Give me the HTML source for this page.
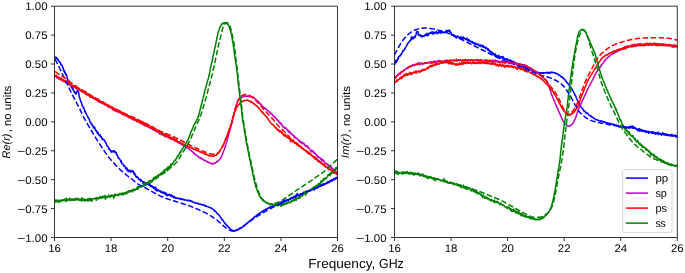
<!DOCTYPE html>
<html><head><meta charset="utf-8"><title>plot</title>
<style>
html,body{margin:0;padding:0;background:#fff;}
svg{display:block;font-family:"Liberation Sans",sans-serif;fill:#000;text-rendering:geometricPrecision;will-change:transform;}
</style></head><body>
<svg width="685" height="273" viewBox="0 0 685 273">
<defs>
<clipPath id="cl"><rect x="54.5" y="5.5" width="283.0" height="232.0"/></clipPath>
<clipPath id="cr"><rect x="394.5" y="5.5" width="282.8" height="232.0"/></clipPath>
</defs>
<rect width="685" height="273" fill="#fff"/>
<g clip-path="url(#cl)">
<path d="M55.00 57.03L55.35 57.60L55.70 57.02L56.05 58.36L56.40 58.03L56.75 57.69L57.10 58.62L57.45 59.74L57.80 59.97L58.15 59.48L58.50 60.95L58.85 60.95L59.20 61.69L59.55 62.09L59.90 61.66L60.25 63.06L60.60 63.01L60.95 64.85L61.30 64.94L61.65 65.17L62.00 65.24L62.35 66.58L62.70 67.39L63.05 67.34L63.40 70.19L63.75 69.90L64.10 71.48L64.45 70.60L64.80 73.04L65.15 72.02L65.50 73.23L65.85 74.75L66.20 75.27L66.55 74.65L66.90 76.22L67.25 78.20L67.60 79.76L67.95 79.85L68.30 79.90L68.65 81.30L69.00 80.88L69.35 82.61L69.70 82.23L70.05 83.75L70.40 84.39L70.75 85.64L71.10 85.66L71.45 87.22L71.80 87.03L72.15 88.27L72.50 88.92L72.85 88.07L73.20 89.93L73.55 90.65L73.90 90.83L74.25 92.01L74.60 91.53L74.95 93.10L75.30 93.27L75.65 93.15L76.00 94.22L76.35 92.55L76.70 91.90L77.05 90.98L77.40 91.28L77.75 90.43L78.10 92.18L78.45 91.96L78.80 93.74L79.15 96.31L79.50 97.33L79.85 98.14L80.20 99.96L80.55 100.23L80.90 101.86L81.25 102.50L81.60 103.02L81.95 104.83L82.30 106.06L82.65 106.15L83.00 106.51L83.35 107.62L83.70 107.24L84.05 109.02L84.40 109.45L84.75 112.01L85.10 111.16L85.45 111.27L85.80 113.41L86.15 113.45L86.50 114.25L86.85 115.00L87.20 115.67L87.55 115.99L87.90 117.46L88.25 117.89L88.60 117.97L88.95 118.87L89.30 119.11L89.65 120.54L90.00 121.51L90.35 122.13L90.70 122.78L91.05 122.98L91.40 124.62L91.75 124.13L92.10 124.83L92.45 125.13L92.80 125.88L93.15 126.17L93.50 128.00L93.85 127.49L94.20 126.69L94.55 127.91L94.90 127.81L95.25 129.69L95.60 130.51L95.95 129.94L96.30 131.11L96.65 131.14L97.00 132.03L97.35 133.33L97.70 132.56L98.05 132.51L98.40 134.14L98.75 134.48L99.10 135.02L99.45 135.68L99.80 135.09L100.15 134.76L100.50 137.00L100.85 136.56L101.20 136.51L101.55 136.96L101.90 138.75L102.25 138.59L102.60 139.05L102.95 139.77L103.30 139.25L103.65 139.37L104.00 139.94L104.35 140.20L104.70 141.12L105.05 141.21L105.40 142.24L105.75 142.43L106.10 143.23L106.45 144.28L106.80 145.38L107.15 146.13L107.50 145.93L107.85 146.64L108.20 146.82L108.55 148.30L108.90 149.14L109.25 148.42L109.60 149.81L109.95 149.74L110.30 150.38L110.65 151.09L111.00 151.15L111.35 152.24L111.70 150.97L112.05 151.48L112.40 151.80L112.75 151.19L113.10 151.97L113.45 150.76L113.80 151.62L114.15 150.64L114.50 151.34L114.85 151.67L115.20 152.64L115.55 151.95L115.90 152.53L116.25 152.41L116.60 154.78L116.95 154.59L117.30 155.65L117.65 155.75L118.00 157.19L118.35 158.17L118.70 157.65L119.05 158.33L119.40 158.81L119.75 159.43L120.10 159.82L120.45 159.91L120.80 162.09L121.15 160.62L121.50 161.77L121.85 163.05L122.20 163.95L122.55 163.69L122.90 164.12L123.25 164.78L123.60 165.05L123.95 166.18L124.30 165.80L124.65 165.93L125.00 166.64L125.35 167.38L125.70 168.43L126.05 169.01L126.40 168.16L126.75 167.89L127.10 168.30L127.45 170.77L127.80 169.60L128.15 170.45L128.50 171.63L128.85 170.34L129.20 170.86L129.55 170.80L129.90 170.62L130.25 171.83L130.60 172.04L130.95 170.31L131.30 172.06L131.65 171.35L132.00 171.63L132.35 171.68L132.70 170.83L133.05 171.50L133.40 171.29L133.75 173.46L134.10 174.19L134.45 173.56L134.80 173.40L135.15 175.29L135.50 174.95L135.85 176.58L136.20 177.16L136.55 177.42L136.90 176.60L137.25 176.64L137.60 177.20L137.95 177.89L138.30 177.73L138.65 179.32L139.00 179.30L139.35 179.19L139.70 179.26L140.05 180.16L140.40 180.87L140.75 179.16L141.10 180.71L141.45 180.65L141.80 180.64L142.15 181.13L142.50 181.66L142.85 182.94L143.20 182.08L143.55 182.01L143.90 181.75L144.25 183.15L144.60 182.44L144.95 183.01L145.30 183.68L145.65 183.44L146.00 183.33L146.35 183.60L146.70 184.38L147.05 183.96L147.40 184.25L147.75 184.49L148.10 184.17L148.45 184.70L148.80 184.48L149.15 185.47L149.50 185.25L149.85 184.08L150.20 185.19L150.55 186.19L150.90 185.64L151.25 185.75L151.60 186.84L151.95 185.82L152.30 186.72L152.65 187.23L153.00 187.59L153.35 186.65L153.70 186.71L154.05 188.54L154.40 187.36L154.75 187.96L155.10 189.65L155.45 188.10L155.80 187.24L156.15 190.42L156.50 189.54L156.85 189.34L157.20 190.98L157.55 189.46L157.90 190.56L158.25 189.89L158.60 189.90L158.95 190.63L159.30 190.97L159.65 191.39L160.00 191.52L160.35 190.68L160.70 191.11L161.05 192.50L161.40 191.88L161.75 191.75L162.10 192.67L162.45 192.88L162.80 192.98L163.15 192.05L163.50 192.32L163.85 193.17L164.20 193.60L164.55 192.33L164.90 192.93L165.25 193.22L165.60 194.12L165.95 193.02L166.30 195.45L166.65 194.03L167.00 194.49L167.35 195.61L167.70 194.79L168.05 195.01L168.40 194.60L168.75 195.13L169.10 194.36L169.45 195.09L169.80 195.30L170.15 194.82L170.50 196.14L170.85 195.95L171.20 194.79L171.55 196.41L171.90 195.62L172.25 196.58L172.60 196.00L172.95 196.38L173.30 196.92L173.65 197.81L174.00 196.28L174.35 196.99L174.70 197.14L175.05 197.92L175.40 197.46L175.75 197.87L176.10 198.37L176.45 198.25L176.80 197.89L177.15 197.99L177.50 198.15L177.85 198.40L178.20 198.13L178.55 198.50L178.90 198.78L179.25 198.52L179.60 198.59L179.95 198.90L180.30 199.11L180.65 198.57L181.00 198.74L181.35 199.41L181.70 199.13L182.05 198.94L182.40 199.30L182.75 199.72L183.10 199.27L183.45 199.26L183.80 199.51L184.15 200.02L184.50 199.56L184.85 199.92L185.20 200.11L185.55 200.09L185.90 199.94L186.25 200.25L186.60 200.21L186.95 200.45L187.30 200.42L187.65 200.44L188.00 200.08L188.35 200.73L188.70 200.63L189.05 200.25L189.40 200.83L189.75 201.00L190.10 201.00L190.45 200.54L190.80 201.06L191.15 201.11L191.50 201.38L191.85 201.03L192.20 201.76L192.55 201.95L192.90 202.08L193.25 202.05L193.60 202.17L193.95 202.56L194.30 202.55L194.65 202.46L195.00 202.75L195.35 202.96L195.70 203.20L196.05 203.13L196.40 202.93L196.75 203.10L197.10 203.37L197.45 203.49L197.80 203.75L198.15 203.15L198.50 203.52L198.85 203.51L199.20 204.14L199.55 204.15L199.90 204.14L200.25 204.35L200.60 204.11L200.95 204.47L201.30 204.46L201.65 204.57L202.00 204.62L202.35 204.98L202.70 205.12L203.05 204.64L203.40 204.97L203.75 205.24L204.10 205.47L204.45 205.08L204.80 205.36L205.15 205.64L205.50 206.26L205.85 205.77L206.20 206.01L206.55 206.23L206.90 206.35L207.25 206.55L207.60 206.64L207.95 206.74L208.30 206.99L208.65 207.13L209.00 207.29L209.35 207.42L209.70 207.18L210.05 207.64L210.40 207.77L210.75 208.07L211.10 208.20L211.45 208.58L211.80 208.20L212.15 208.56L212.50 208.87L212.85 208.93L213.20 209.30L213.55 209.58L213.90 209.87L214.25 210.85L214.60 210.62L214.95 211.31L215.30 211.07L215.65 211.66L216.00 211.77L216.35 212.33L216.70 212.98L217.05 213.40L217.40 213.48L217.75 213.77L218.10 214.05L218.45 214.54L218.80 215.20L219.15 214.96L219.50 215.77L219.85 216.12L220.20 217.10L220.55 217.08L220.90 218.07L221.25 218.07L221.60 218.57L221.95 219.66L222.30 220.02L222.65 220.04L223.00 220.32L223.35 220.98L223.70 221.81L224.05 222.12L224.40 222.35L224.75 223.15L225.10 223.78L225.45 223.60L225.80 224.26L226.15 224.48L226.50 225.33L226.85 225.48L227.20 225.68L227.55 225.82L227.90 226.74L228.25 226.86L228.60 227.31L228.95 227.56L229.30 228.02L229.65 227.81L230.00 228.31L230.35 228.87L230.70 229.52L231.05 229.47L231.40 229.67L231.75 229.82L232.10 230.07L232.45 230.39L232.80 230.42L233.15 230.75L233.50 230.76L233.85 231.21L234.20 230.67L234.55 230.89L234.90 230.44L235.25 230.66L235.60 230.90L235.95 230.06L236.30 229.79L236.65 230.19L237.00 229.82L237.35 229.62L237.70 229.65L238.05 229.46L238.40 229.52L238.75 229.16L239.10 228.74L239.45 228.43L239.80 228.09L240.15 228.05L240.50 228.37L240.85 227.56L241.20 227.70L241.55 227.76L241.90 227.38L242.25 227.37L242.60 226.94L242.95 226.88L243.30 226.11L243.65 225.79L244.00 226.18L244.35 225.52L244.70 225.18L245.05 224.74L245.40 224.98L245.75 224.43L246.10 224.15L246.45 223.60L246.80 223.49L247.15 223.09L247.50 222.88L247.85 222.69L248.20 222.20L248.55 221.83L248.90 221.92L249.25 221.18L249.60 221.45L249.95 221.18L250.30 220.18L250.65 220.59L251.00 219.70L251.35 219.91L251.70 219.16L252.05 219.18L252.40 218.45L252.75 218.56L253.10 218.15L253.45 218.22L253.80 217.75L254.15 217.09L254.50 217.10L254.85 216.59L255.20 216.53L255.55 216.58L255.90 216.33L256.25 215.73L256.60 215.23L256.95 215.19L257.30 215.40L257.65 214.62L258.00 214.05L258.35 213.82L258.70 213.62L259.05 213.92L259.40 213.34L259.75 213.00L260.10 213.03L260.45 212.94L260.80 212.44L261.15 212.06L261.50 212.07L261.85 211.99L262.20 211.18L262.55 211.02L262.90 211.61L263.25 211.02L263.60 210.79L263.95 210.16L264.30 210.05L264.65 210.01L265.00 210.17L265.35 209.69L265.70 209.09L266.05 209.65L266.40 209.47L266.75 209.11L267.10 208.45L267.45 208.37L267.80 208.28L268.15 208.19L268.50 208.43L268.85 207.45L269.20 207.43L269.55 207.45L269.90 207.12L270.25 206.96L270.60 206.48L270.95 206.80L271.30 206.51L271.65 206.52L272.00 206.63L272.35 206.05L272.70 205.95L273.05 205.96L273.40 205.53L273.75 205.65L274.10 204.69L274.45 204.92L274.80 205.38L275.15 205.11L275.50 205.26L275.85 204.12L276.20 204.36L276.55 204.44L276.90 204.29L277.25 204.09L277.60 204.81L277.95 203.68L278.30 203.61L278.65 203.92L279.00 203.76L279.35 203.42L279.70 204.17L280.05 203.38L280.40 202.76L280.75 202.17L281.10 203.32L281.45 202.07L281.80 202.52L282.15 201.83L282.50 203.24L282.85 202.26L283.20 200.63L283.55 201.69L283.90 200.55L284.25 200.88L284.60 201.53L284.95 200.13L285.30 200.94L285.65 200.54L286.00 200.88L286.35 199.70L286.70 200.49L287.05 199.75L287.40 200.42L287.75 199.68L288.10 199.89L288.45 200.14L288.80 199.84L289.15 199.02L289.50 199.30L289.85 198.73L290.20 198.83L290.55 199.39L290.90 197.77L291.25 197.43L291.60 198.27L291.95 197.50L292.30 198.41L292.65 198.04L293.00 197.76L293.35 197.23L293.70 196.82L294.05 196.42L294.40 196.47L294.75 196.63L295.10 195.94L295.45 196.96L295.80 196.59L296.15 195.29L296.50 194.32L296.85 196.43L297.20 194.91L297.55 193.77L297.90 194.36L298.25 195.32L298.60 195.86L298.95 195.46L299.30 195.64L299.65 195.68L300.00 195.59L300.35 193.77L300.70 194.08L301.05 193.68L301.40 193.94L301.75 193.55L302.10 193.77L302.45 194.56L302.80 192.91L303.15 193.62L303.50 192.46L303.85 192.12L304.20 193.35L304.55 192.52L304.90 192.50L305.25 193.17L305.60 191.38L305.95 192.07L306.30 192.75L306.65 191.12L307.00 191.74L307.35 192.00L307.70 191.85L308.05 191.56L308.40 191.60L308.75 191.16L309.10 191.20L309.45 190.82L309.80 189.91L310.15 190.38L310.50 190.10L310.85 190.70L311.20 190.19L311.55 190.06L311.90 189.72L312.25 189.86L312.60 189.00L312.95 189.35L313.30 188.64L313.65 188.69L314.00 188.10L314.35 189.94L314.70 188.83L315.05 187.76L315.40 187.97L315.75 188.24L316.10 187.63L316.45 188.19L316.80 187.86L317.15 188.13L317.50 185.62L317.85 187.60L318.20 187.14L318.55 187.45L318.90 186.36L319.25 186.11L319.60 185.72L319.95 186.51L320.30 186.17L320.65 184.91L321.00 185.42L321.35 185.58L321.70 184.72L322.05 185.05L322.40 185.04L322.75 184.60L323.10 183.81L323.45 185.29L323.80 184.59L324.15 184.48L324.50 183.76L324.85 184.04L325.20 183.36L325.55 183.52L325.90 183.50L326.25 183.60L326.60 182.73L326.95 182.44L327.30 183.47L327.65 181.73L328.00 182.49L328.35 182.13L328.70 182.42L329.05 181.58L329.40 181.05L329.75 181.55L330.10 180.49L330.45 180.49L330.80 180.92L331.15 180.82L331.50 179.70L331.85 181.13L332.20 180.17L332.55 180.74L332.90 180.47L333.25 179.66L333.60 179.20L333.95 178.41L334.30 179.65L334.65 179.78L335.00 178.78L335.35 178.52L335.70 177.76L336.05 177.50L336.40 177.84L336.75 178.43L337.10 177.35L337.45 177.84L337.80 177.36L338.00 176.94" fill="none" stroke="#0000ff" stroke-width="1.5" stroke-linejoin="round" stroke-linecap="butt"/>
<path d="M55.00 76.81L55.35 75.91L55.70 76.17L56.05 76.11L56.40 77.29L56.75 75.92L57.10 78.16L57.45 77.12L57.80 77.87L58.15 77.79L58.50 78.85L58.85 77.30L59.20 78.37L59.55 78.55L59.90 79.51L60.25 78.59L60.60 79.26L60.95 79.10L61.30 79.76L61.65 80.22L62.00 79.58L62.35 80.89L62.70 80.96L63.05 80.95L63.40 81.34L63.75 80.74L64.10 81.21L64.45 80.99L64.80 81.51L65.15 82.10L65.50 81.67L65.85 82.01L66.20 82.05L66.55 82.16L66.90 82.44L67.25 82.95L67.60 82.59L67.95 83.46L68.30 84.36L68.65 84.09L69.00 83.82L69.35 83.66L69.70 83.93L70.05 85.34L70.40 84.72L70.75 84.57L71.10 85.18L71.45 86.33L71.80 85.54L72.15 85.99L72.50 86.02L72.85 85.90L73.20 85.70L73.55 86.30L73.90 86.57L74.25 87.16L74.60 87.49L74.95 87.74L75.30 87.61L75.65 88.12L76.00 87.50L76.35 88.70L76.70 88.54L77.05 88.33L77.40 88.93L77.75 88.85L78.10 89.66L78.45 90.05L78.80 90.59L79.15 89.00L79.50 89.19L79.85 89.86L80.20 90.40L80.55 90.96L80.90 90.89L81.25 89.93L81.60 91.00L81.95 91.77L82.30 91.69L82.65 92.16L83.00 91.89L83.35 92.11L83.70 92.52L84.05 92.84L84.40 92.95L84.75 93.12L85.10 92.94L85.45 93.68L85.80 93.76L86.15 94.48L86.50 94.73L86.85 94.43L87.20 94.36L87.55 94.44L87.90 95.18L88.25 95.22L88.60 95.21L88.95 95.61L89.30 95.49L89.65 96.35L90.00 95.98L90.35 97.01L90.70 96.80L91.05 97.09L91.40 96.45L91.75 97.28L92.10 97.76L92.45 97.10L92.80 97.64L93.15 97.98L93.50 97.47L93.85 98.51L94.20 98.97L94.55 98.30L94.90 99.10L95.25 98.46L95.60 99.28L95.95 98.69L96.30 100.24L96.65 100.08L97.00 100.05L97.35 99.86L97.70 101.08L98.05 101.62L98.40 99.89L98.75 101.63L99.10 102.02L99.45 101.57L99.80 100.99L100.15 102.21L100.50 101.89L100.85 101.87L101.20 101.75L101.55 102.84L101.90 103.15L102.25 102.64L102.60 103.41L102.95 102.77L103.30 103.94L103.65 103.76L104.00 103.84L104.35 104.08L104.70 104.76L105.05 104.90L105.40 104.98L105.75 104.98L106.10 105.15L106.45 105.62L106.80 105.62L107.15 106.04L107.50 105.74L107.85 104.87L108.20 106.80L108.55 107.57L108.90 106.89L109.25 106.81L109.60 106.98L109.95 107.18L110.30 107.44L110.65 107.06L111.00 107.55L111.35 107.50L111.70 108.31L112.05 108.22L112.40 108.80L112.75 108.65L113.10 109.41L113.45 109.21L113.80 110.38L114.15 108.52L114.50 109.32L114.85 110.28L115.20 111.27L115.55 110.06L115.90 110.38L116.25 110.43L116.60 111.38L116.95 110.75L117.30 111.41L117.65 111.09L118.00 110.79L118.35 111.76L118.70 112.03L119.05 112.60L119.40 112.07L119.75 111.99L120.10 112.76L120.45 112.77L120.80 112.96L121.15 112.96L121.50 113.75L121.85 113.53L122.20 114.47L122.55 114.25L122.90 114.19L123.25 113.22L123.60 114.51L123.95 114.59L124.30 114.96L124.65 115.25L125.00 114.70L125.35 115.48L125.70 114.96L126.05 116.39L126.40 114.92L126.75 114.87L127.10 115.10L127.45 115.65L127.80 115.70L128.15 117.41L128.50 116.43L128.85 116.09L129.20 117.49L129.55 116.80L129.90 116.65L130.25 117.87L130.60 117.91L130.95 117.55L131.30 118.63L131.65 118.16L132.00 119.07L132.35 118.68L132.70 119.38L133.05 118.82L133.40 118.32L133.75 120.33L134.10 119.00L134.45 119.34L134.80 119.26L135.15 119.68L135.50 120.08L135.85 120.23L136.20 120.63L136.55 121.37L136.90 120.59L137.25 120.21L137.60 120.41L137.95 120.85L138.30 120.52L138.65 121.95L139.00 121.46L139.35 121.73L139.70 122.07L140.05 121.55L140.40 122.00L140.75 122.94L141.10 123.10L141.45 122.75L141.80 124.06L142.15 122.68L142.50 123.34L142.85 123.58L143.20 122.48L143.55 125.03L143.90 124.43L144.25 123.91L144.60 125.64L144.95 125.09L145.30 125.20L145.65 124.86L146.00 125.41L146.35 124.78L146.70 126.12L147.05 125.73L147.40 126.17L147.75 126.89L148.10 126.62L148.45 126.79L148.80 126.99L149.15 126.67L149.50 127.65L149.85 128.19L150.20 127.99L150.55 128.24L150.90 127.56L151.25 127.76L151.60 127.67L151.95 129.20L152.30 128.66L152.65 129.68L153.00 128.79L153.35 129.17L153.70 129.63L154.05 130.25L154.40 130.02L154.75 130.30L155.10 130.40L155.45 130.68L155.80 130.24L156.15 131.04L156.50 131.10L156.85 131.37L157.20 131.84L157.55 131.45L157.90 131.94L158.25 132.02L158.60 132.57L158.95 132.94L159.30 132.26L159.65 133.21L160.00 134.13L160.35 132.54L160.70 133.04L161.05 133.18L161.40 133.65L161.75 134.77L162.10 134.13L162.45 133.94L162.80 134.77L163.15 134.32L163.50 135.35L163.85 135.10L164.20 135.81L164.55 134.95L164.90 136.97L165.25 136.03L165.60 136.12L165.95 135.94L166.30 135.77L166.65 135.87L167.00 136.41L167.35 136.25L167.70 136.96L168.05 136.58L168.40 137.48L168.75 137.82L169.10 137.16L169.45 138.29L169.80 137.75L170.15 138.62L170.50 138.43L170.85 138.94L171.20 138.11L171.55 138.71L171.90 139.60L172.25 138.86L172.60 138.43L172.95 138.68L173.30 138.65L173.65 139.03L174.00 139.92L174.35 140.78L174.70 140.30L175.05 140.79L175.40 140.83L175.75 141.07L176.10 141.20L176.45 141.40L176.80 141.81L177.15 141.48L177.50 142.38L177.85 142.54L178.20 142.41L178.55 142.90L178.90 142.67L179.25 142.92L179.60 143.31L179.95 143.42L180.30 143.56L180.65 143.71L181.00 143.94L181.35 144.47L181.70 144.06L182.05 144.73L182.40 144.81L182.75 145.20L183.10 145.36L183.45 144.90L183.80 145.78L184.15 145.93L184.50 146.08L184.85 146.19L185.20 146.67L185.55 146.63L185.90 147.30L186.25 147.27L186.60 147.81L186.95 147.46L187.30 147.49L187.65 148.22L188.00 148.48L188.35 148.56L188.70 148.49L189.05 148.95L189.40 149.42L189.75 149.51L190.10 149.79L190.45 150.04L190.80 150.16L191.15 150.51L191.50 150.62L191.85 151.57L192.20 151.43L192.55 151.95L192.90 151.98L193.25 152.67L193.60 152.47L193.95 153.37L194.30 153.51L194.65 154.26L195.00 153.90L195.35 154.48L195.70 154.83L196.05 155.29L196.40 155.23L196.75 155.59L197.10 155.41L197.45 155.93L197.80 156.43L198.15 156.81L198.50 156.77L198.85 157.48L199.20 157.65L199.55 157.51L199.90 157.26L200.25 157.60L200.60 158.00L200.95 158.58L201.30 158.62L201.65 158.33L202.00 158.90L202.35 159.45L202.70 159.24L203.05 159.35L203.40 160.09L203.75 159.87L204.10 159.94L204.45 160.29L204.80 160.40L205.15 160.49L205.50 161.01L205.85 161.17L206.20 161.31L206.55 161.31L206.90 161.74L207.25 161.69L207.60 161.97L207.95 162.25L208.30 162.37L208.65 162.72L209.00 162.59L209.35 162.30L209.70 162.55L210.05 163.20L210.40 163.01L210.75 163.30L211.10 163.18L211.45 163.67L211.80 163.50L212.15 163.95L212.50 163.61L212.85 163.97L213.20 163.88L213.55 163.54L213.90 163.80L214.25 163.27L214.60 163.12L214.95 163.24L215.30 162.78L215.65 162.58L216.00 162.43L216.35 162.09L216.70 162.26L217.05 161.91L217.40 161.49L217.75 161.18L218.10 160.97L218.45 160.90L218.80 160.38L219.15 159.75L219.50 159.63L219.85 159.06L220.20 158.62L220.55 158.56L220.90 157.58L221.25 156.97L221.60 155.97L221.95 155.28L222.30 154.78L222.65 153.63L223.00 152.91L223.35 151.60L223.70 150.68L224.05 150.00L224.40 149.17L224.75 147.99L225.10 147.08L225.45 146.12L225.80 144.90L226.15 143.41L226.50 142.45L226.85 141.45L227.20 140.08L227.55 139.07L227.90 137.44L228.25 136.34L228.60 135.33L228.95 133.48L229.30 132.39L229.65 131.30L230.00 129.66L230.35 128.71L230.70 127.24L231.05 126.04L231.40 124.73L231.75 123.48L232.10 121.97L232.45 120.72L232.80 119.14L233.15 117.88L233.50 116.58L233.85 114.76L234.20 113.26L234.55 111.57L234.90 110.52L235.25 108.80L235.60 107.41L235.95 106.38L236.30 105.13L236.65 104.30L237.00 103.41L237.35 102.12L237.70 101.44L238.05 101.06L238.40 100.33L238.75 99.83L239.10 99.56L239.45 98.83L239.80 98.77L240.15 98.64L240.50 98.44L240.85 97.73L241.20 97.63L241.55 97.56L241.90 97.24L242.25 97.04L242.60 97.10L242.95 96.74L243.30 96.33L243.65 96.65L244.00 96.42L244.35 96.28L244.70 96.05L245.05 96.51L245.40 95.81L245.75 95.88L246.10 96.15L246.45 96.45L246.80 96.47L247.15 96.00L247.50 96.22L247.85 95.98L248.20 96.52L248.55 96.06L248.90 96.36L249.25 96.63L249.60 96.42L249.95 96.80L250.30 96.38L250.65 96.68L251.00 96.84L251.35 96.71L251.70 97.08L252.05 97.00L252.40 96.65L252.75 97.87L253.10 97.35L253.45 97.42L253.80 97.33L254.15 97.86L254.50 98.01L254.85 98.51L255.20 98.76L255.55 99.36L255.90 99.34L256.25 99.74L256.60 100.04L256.95 100.27L257.30 100.58L257.65 101.16L258.00 101.43L258.35 101.50L258.70 101.77L259.05 102.37L259.40 103.00L259.75 103.15L260.10 103.90L260.45 103.77L260.80 104.32L261.15 104.15L261.50 104.88L261.85 105.29L262.20 105.80L262.55 106.38L262.90 106.39L263.25 107.01L263.60 107.19L263.95 107.58L264.30 107.62L264.65 108.31L265.00 108.14L265.35 108.77L265.70 108.78L266.05 109.17L266.40 109.27L266.75 109.74L267.10 110.20L267.45 110.39L267.80 110.41L268.15 111.25L268.50 111.31L268.85 111.74L269.20 111.99L269.55 111.94L269.90 111.93L270.25 112.49L270.60 113.38L270.95 113.10L271.30 113.97L271.65 113.91L272.00 114.56L272.35 114.23L272.70 115.53L273.05 115.51L273.40 116.18L273.75 116.31L274.10 116.88L274.45 116.91L274.80 117.57L275.15 117.07L275.50 117.56L275.85 118.61L276.20 118.65L276.55 118.92L276.90 119.29L277.25 119.95L277.60 119.85L277.95 120.73L278.30 120.49L278.65 121.14L279.00 122.22L279.35 122.69L279.70 122.05L280.05 123.42L280.40 122.87L280.75 124.14L281.10 123.19L281.45 123.94L281.80 124.61L282.15 125.13L282.50 126.28L282.85 126.36L283.20 127.04L283.55 127.20L283.90 126.79L284.25 127.14L284.60 128.15L284.95 127.97L285.30 128.21L285.65 127.96L286.00 128.91L286.35 127.90L286.70 129.39L287.05 129.46L287.40 130.62L287.75 130.35L288.10 130.75L288.45 131.91L288.80 131.02L289.15 132.02L289.50 131.23L289.85 132.54L290.20 133.01L290.55 133.55L290.90 132.98L291.25 133.91L291.60 134.22L291.95 134.36L292.30 134.75L292.65 135.22L293.00 135.50L293.35 135.11L293.70 135.33L294.05 137.49L294.40 137.51L294.75 136.17L295.10 137.41L295.45 137.82L295.80 138.19L296.15 138.20L296.50 137.98L296.85 138.66L297.20 138.81L297.55 139.43L297.90 139.53L298.25 139.90L298.60 140.77L298.95 141.17L299.30 140.25L299.65 140.89L300.00 141.00L300.35 142.28L300.70 141.90L301.05 142.91L301.40 142.21L301.75 142.71L302.10 142.28L302.45 143.85L302.80 143.27L303.15 142.95L303.50 143.65L303.85 143.04L304.20 144.43L304.55 144.76L304.90 145.10L305.25 145.97L305.60 145.34L305.95 146.17L306.30 146.20L306.65 146.23L307.00 145.57L307.35 147.38L307.70 146.95L308.05 147.51L308.40 147.17L308.75 148.25L309.10 148.47L309.45 148.74L309.80 148.97L310.15 149.87L310.50 150.14L310.85 150.34L311.20 151.95L311.55 150.30L311.90 150.72L312.25 150.72L312.60 151.76L312.95 151.51L313.30 150.82L313.65 151.89L314.00 152.85L314.35 153.64L314.70 152.68L315.05 153.47L315.40 154.03L315.75 154.06L316.10 155.01L316.45 155.06L316.80 155.54L317.15 155.33L317.50 156.77L317.85 156.31L318.20 157.26L318.55 156.70L318.90 157.51L319.25 157.18L319.60 157.34L319.95 157.76L320.30 158.39L320.65 158.60L321.00 159.78L321.35 158.73L321.70 159.06L322.05 160.76L322.40 160.52L322.75 159.58L323.10 161.08L323.45 161.26L323.80 160.38L324.15 161.58L324.50 162.08L324.85 162.77L325.20 163.19L325.55 163.08L325.90 163.86L326.25 163.58L326.60 163.54L326.95 163.81L327.30 164.85L327.65 163.90L328.00 165.52L328.35 164.92L328.70 165.58L329.05 166.31L329.40 166.95L329.75 165.66L330.10 166.51L330.45 167.23L330.80 167.19L331.15 168.21L331.50 167.02L331.85 168.54L332.20 168.86L332.55 168.97L332.90 169.79L333.25 168.92L333.60 170.38L333.95 169.77L334.30 170.79L334.65 170.56L335.00 171.43L335.35 171.71L335.70 170.89L336.05 171.84L336.40 172.17L336.75 172.40L337.10 172.44L337.45 174.05L337.80 173.53L338.00 174.38" fill="none" stroke="#bf00bf" stroke-width="1.5" stroke-linejoin="round" stroke-linecap="butt"/>
<path d="M55.00 76.57L55.35 75.98L55.70 75.99L56.05 75.03L56.40 76.19L56.75 76.36L57.10 76.74L57.45 76.62L57.80 77.18L58.15 77.13L58.50 76.84L58.85 78.36L59.20 78.56L59.55 79.27L59.90 78.47L60.25 78.40L60.60 78.52L60.95 78.11L61.30 79.83L61.65 78.77L62.00 78.91L62.35 79.69L62.70 80.90L63.05 80.34L63.40 79.78L63.75 80.15L64.10 81.14L64.45 80.86L64.80 80.68L65.15 81.19L65.50 81.97L65.85 82.89L66.20 81.15L66.55 81.71L66.90 81.79L67.25 81.01L67.60 82.09L67.95 82.22L68.30 83.70L68.65 83.14L69.00 82.44L69.35 83.99L69.70 83.59L70.05 82.95L70.40 83.83L70.75 84.03L71.10 84.06L71.45 84.80L71.80 83.63L72.15 85.02L72.50 85.98L72.85 86.08L73.20 86.44L73.55 86.64L73.90 87.06L74.25 85.70L74.60 87.08L74.95 85.65L75.30 86.61L75.65 86.02L76.00 88.00L76.35 88.38L76.70 87.66L77.05 89.05L77.40 87.78L77.75 88.48L78.10 88.68L78.45 88.16L78.80 89.26L79.15 90.37L79.50 88.79L79.85 90.15L80.20 89.72L80.55 91.09L80.90 90.52L81.25 90.85L81.60 91.04L81.95 91.01L82.30 90.23L82.65 92.12L83.00 90.67L83.35 91.85L83.70 92.29L84.05 91.63L84.40 92.44L84.75 93.26L85.10 92.76L85.45 92.46L85.80 91.45L86.15 92.83L86.50 93.27L86.85 93.53L87.20 93.47L87.55 94.49L87.90 94.12L88.25 94.61L88.60 95.29L88.95 94.58L89.30 95.12L89.65 96.79L90.00 96.22L90.35 95.12L90.70 96.05L91.05 96.64L91.40 97.23L91.75 96.78L92.10 96.57L92.45 96.64L92.80 97.66L93.15 97.65L93.50 97.35L93.85 97.74L94.20 97.79L94.55 98.67L94.90 98.01L95.25 98.91L95.60 99.31L95.95 99.29L96.30 98.68L96.65 100.18L97.00 99.16L97.35 100.01L97.70 99.49L98.05 99.09L98.40 100.46L98.75 100.69L99.10 100.66L99.45 101.06L99.80 100.70L100.15 100.84L100.50 101.38L100.85 102.82L101.20 102.35L101.55 101.75L101.90 102.59L102.25 102.16L102.60 102.37L102.95 103.36L103.30 102.72L103.65 102.23L104.00 102.89L104.35 103.68L104.70 103.90L105.05 104.77L105.40 103.79L105.75 104.85L106.10 104.87L106.45 104.72L106.80 105.50L107.15 105.49L107.50 104.88L107.85 106.23L108.20 105.05L108.55 106.01L108.90 106.17L109.25 106.61L109.60 106.11L109.95 106.72L110.30 106.85L110.65 107.72L111.00 106.83L111.35 107.54L111.70 107.52L112.05 107.09L112.40 109.66L112.75 108.19L113.10 107.53L113.45 109.45L113.80 108.14L114.15 109.19L114.50 109.66L114.85 108.94L115.20 109.25L115.55 109.36L115.90 109.78L116.25 109.07L116.60 109.48L116.95 110.31L117.30 111.20L117.65 111.13L118.00 111.96L118.35 111.52L118.70 110.97L119.05 111.38L119.40 110.41L119.75 111.22L120.10 111.36L120.45 112.31L120.80 112.71L121.15 112.16L121.50 112.32L121.85 111.92L122.20 112.94L122.55 113.34L122.90 113.63L123.25 113.07L123.60 114.90L123.95 114.60L124.30 114.00L124.65 113.91L125.00 114.21L125.35 114.66L125.70 114.73L126.05 115.21L126.40 115.55L126.75 116.08L127.10 116.12L127.45 115.53L127.80 116.00L128.15 115.71L128.50 115.75L128.85 117.42L129.20 116.17L129.55 117.81L129.90 116.57L130.25 117.10L130.60 117.77L130.95 117.30L131.30 117.69L131.65 117.48L132.00 117.50L132.35 117.86L132.70 117.73L133.05 119.27L133.40 118.36L133.75 119.66L134.10 117.19L134.45 118.98L134.80 119.47L135.15 119.13L135.50 120.13L135.85 120.02L136.20 119.65L136.55 120.24L136.90 121.84L137.25 120.47L137.60 120.67L137.95 120.40L138.30 120.91L138.65 120.23L139.00 121.05L139.35 122.81L139.70 122.15L140.05 122.06L140.40 122.51L140.75 123.14L141.10 122.54L141.45 123.59L141.80 123.16L142.15 122.79L142.50 123.89L142.85 121.61L143.20 122.85L143.55 123.52L143.90 122.99L144.25 123.61L144.60 123.49L144.95 123.65L145.30 125.84L145.65 124.77L146.00 124.53L146.35 125.53L146.70 124.77L147.05 125.62L147.40 125.47L147.75 126.42L148.10 124.77L148.45 126.26L148.80 126.05L149.15 125.46L149.50 126.98L149.85 126.00L150.20 127.68L150.55 127.20L150.90 127.50L151.25 127.32L151.60 128.00L151.95 126.53L152.30 127.89L152.65 127.66L153.00 128.40L153.35 128.40L153.70 128.99L154.05 128.32L154.40 130.12L154.75 130.60L155.10 129.29L155.45 129.60L155.80 129.99L156.15 130.77L156.50 131.35L156.85 129.69L157.20 130.24L157.55 130.18L157.90 130.34L158.25 130.23L158.60 131.63L158.95 130.91L159.30 132.71L159.65 132.55L160.00 131.58L160.35 131.78L160.70 132.23L161.05 133.63L161.40 132.48L161.75 132.30L162.10 133.36L162.45 133.81L162.80 133.39L163.15 134.96L163.50 134.33L163.85 134.65L164.20 134.05L164.55 134.73L164.90 134.85L165.25 133.77L165.60 135.49L165.95 134.42L166.30 135.66L166.65 134.98L167.00 137.25L167.35 136.41L167.70 136.91L168.05 137.12L168.40 135.95L168.75 135.55L169.10 136.90L169.45 137.81L169.80 137.50L170.15 138.08L170.50 138.33L170.85 137.10L171.20 138.29L171.55 139.39L171.90 138.16L172.25 137.56L172.60 138.69L172.95 138.75L173.30 139.37L173.65 138.89L174.00 139.55L174.35 138.64L174.70 140.24L175.05 140.74L175.40 140.77L175.75 139.73L176.10 140.69L176.45 139.52L176.80 141.02L177.15 141.06L177.50 140.89L177.85 141.57L178.20 141.67L178.55 142.12L178.90 142.02L179.25 142.23L179.60 141.72L179.95 142.16L180.30 142.55L180.65 142.95L181.00 143.04L181.35 143.60L181.70 143.17L182.05 143.51L182.40 143.80L182.75 143.86L183.10 144.20L183.45 144.12L183.80 144.77L184.15 144.52L184.50 145.03L184.85 144.92L185.20 145.45L185.55 144.92L185.90 145.55L186.25 145.48L186.60 145.81L186.95 146.20L187.30 145.80L187.65 145.92L188.00 146.16L188.35 146.62L188.70 146.26L189.05 146.90L189.40 146.72L189.75 146.91L190.10 147.26L190.45 147.59L190.80 147.51L191.15 147.70L191.50 147.96L191.85 148.06L192.20 147.64L192.55 148.33L192.90 148.61L193.25 149.01L193.60 149.39L193.95 149.21L194.30 149.22L194.65 149.12L195.00 149.53L195.35 149.85L195.70 150.12L196.05 149.76L196.40 150.18L196.75 150.47L197.10 150.87L197.45 150.64L197.80 150.60L198.15 150.72L198.50 150.95L198.85 151.04L199.20 151.54L199.55 151.76L199.90 151.83L200.25 152.09L200.60 151.85L200.95 152.21L201.30 152.17L201.65 152.43L202.00 152.86L202.35 152.71L202.70 152.42L203.05 152.95L203.40 152.99L203.75 152.94L204.10 153.25L204.45 153.81L204.80 154.13L205.15 153.74L205.50 154.24L205.85 154.43L206.20 154.02L206.55 154.44L206.90 154.58L207.25 154.78L207.60 154.50L207.95 154.93L208.30 155.40L208.65 155.57L209.00 155.81L209.35 155.39L209.70 155.99L210.05 155.77L210.40 155.34L210.75 155.90L211.10 155.69L211.45 155.95L211.80 155.84L212.15 156.20L212.50 156.00L212.85 155.90L213.20 156.22L213.55 156.06L213.90 155.89L214.25 156.23L214.60 155.70L214.95 155.47L215.30 155.30L215.65 154.86L216.00 154.87L216.35 155.22L216.70 154.30L217.05 154.24L217.40 153.66L217.75 153.44L218.10 153.59L218.45 153.06L218.80 152.29L219.15 152.00L219.50 151.29L219.85 150.76L220.20 150.15L220.55 149.56L220.90 149.25L221.25 148.71L221.60 148.07L221.95 147.27L222.30 146.33L222.65 145.97L223.00 145.07L223.35 144.79L223.70 143.99L224.05 143.29L224.40 142.24L224.75 141.09L225.10 140.92L225.45 140.14L225.80 138.64L226.15 138.16L226.50 137.53L226.85 136.09L227.20 135.86L227.55 134.43L227.90 133.31L228.25 132.95L228.60 131.73L228.95 130.55L229.30 129.98L229.65 128.36L230.00 128.31L230.35 126.69L230.70 125.90L231.05 124.60L231.40 123.53L231.75 122.07L232.10 119.99L232.45 118.87L232.80 117.38L233.15 116.13L233.50 115.16L233.85 113.97L234.20 113.07L234.55 112.60L234.90 111.51L235.25 111.05L235.60 110.15L235.95 109.10L236.30 108.19L236.65 107.78L237.00 107.32L237.35 106.59L237.70 105.77L238.05 105.67L238.40 104.51L238.75 104.17L239.10 104.07L239.45 104.17L239.80 103.39L240.15 102.72L240.50 102.79L240.85 102.51L241.20 102.28L241.55 101.69L241.90 101.35L242.25 101.35L242.60 101.25L242.95 101.40L243.30 101.41L243.65 100.64L244.00 100.60L244.35 100.62L244.70 100.51L245.05 100.62L245.40 100.57L245.75 100.48L246.10 100.72L246.45 100.37L246.80 100.18L247.15 100.12L247.50 100.32L247.85 100.41L248.20 100.31L248.55 101.04L248.90 101.04L249.25 101.01L249.60 101.02L249.95 100.98L250.30 101.29L250.65 102.12L251.00 101.32L251.35 102.07L251.70 102.41L252.05 102.46L252.40 102.56L252.75 103.04L253.10 102.83L253.45 103.47L253.80 103.95L254.15 103.63L254.50 103.96L254.85 104.48L255.20 104.98L255.55 105.36L255.90 105.51L256.25 105.50L256.60 105.71L256.95 106.36L257.30 106.74L257.65 106.72L258.00 107.35L258.35 107.77L258.70 108.30L259.05 108.18L259.40 108.94L259.75 108.92L260.10 109.50L260.45 109.99L260.80 110.79L261.15 111.63L261.50 111.30L261.85 111.75L262.20 112.26L262.55 112.07L262.90 112.94L263.25 112.82L263.60 113.88L263.95 114.20L264.30 114.34L264.65 114.41L265.00 115.40L265.35 115.47L265.70 115.85L266.05 116.39L266.40 116.27L266.75 117.22L267.10 117.81L267.45 118.11L267.80 118.55L268.15 118.79L268.50 119.72L268.85 120.14L269.20 120.62L269.55 120.95L269.90 121.83L270.25 122.38L270.60 122.51L270.95 123.06L271.30 123.58L271.65 124.03L272.00 123.90L272.35 124.08L272.70 124.34L273.05 124.85L273.40 125.42L273.75 125.95L274.10 125.76L274.45 126.39L274.80 126.27L275.15 127.67L275.50 127.29L275.85 128.02L276.20 127.87L276.55 128.42L276.90 128.56L277.25 130.11L277.60 129.73L277.95 129.75L278.30 129.61L278.65 130.08L279.00 131.02L279.35 131.94L279.70 130.40L280.05 130.96L280.40 131.67L280.75 131.67L281.10 131.32L281.45 132.59L281.80 133.30L282.15 132.17L282.50 133.51L282.85 134.23L283.20 134.50L283.55 133.93L283.90 135.83L284.25 135.04L284.60 134.48L284.95 135.82L285.30 134.81L285.65 136.28L286.00 135.25L286.35 136.74L286.70 136.18L287.05 137.47L287.40 137.49L287.75 137.58L288.10 137.61L288.45 138.49L288.80 137.02L289.15 138.62L289.50 138.87L289.85 139.22L290.20 139.65L290.55 141.63L290.90 139.75L291.25 140.42L291.60 140.29L291.95 141.41L292.30 139.51L292.65 142.01L293.00 140.85L293.35 140.17L293.70 141.14L294.05 141.95L294.40 142.44L294.75 142.56L295.10 143.34L295.45 143.09L295.80 143.34L296.15 142.35L296.50 144.18L296.85 144.75L297.20 144.14L297.55 143.51L297.90 144.07L298.25 146.11L298.60 144.97L298.95 145.17L299.30 145.32L299.65 146.46L300.00 145.95L300.35 146.03L300.70 145.91L301.05 147.02L301.40 147.95L301.75 147.53L302.10 148.43L302.45 148.28L302.80 148.54L303.15 148.84L303.50 149.03L303.85 149.91L304.20 149.87L304.55 149.51L304.90 150.21L305.25 150.36L305.60 150.97L305.95 151.06L306.30 151.47L306.65 150.61L307.00 151.99L307.35 152.82L307.70 151.49L308.05 153.53L308.40 153.02L308.75 152.98L309.10 152.29L309.45 154.29L309.80 153.33L310.15 153.87L310.50 154.77L310.85 154.10L311.20 154.40L311.55 154.57L311.90 155.46L312.25 156.16L312.60 156.32L312.95 156.60L313.30 156.42L313.65 156.99L314.00 156.77L314.35 158.67L314.70 157.86L315.05 156.85L315.40 157.67L315.75 159.55L316.10 158.05L316.45 158.89L316.80 159.68L317.15 159.06L317.50 160.64L317.85 161.29L318.20 160.06L318.55 161.52L318.90 160.59L319.25 160.81L319.60 161.84L319.95 162.12L320.30 161.90L320.65 163.05L321.00 161.95L321.35 162.60L321.70 162.76L322.05 164.14L322.40 164.45L322.75 164.65L323.10 163.75L323.45 164.89L323.80 165.36L324.15 164.38L324.50 165.13L324.85 166.28L325.20 166.57L325.55 166.56L325.90 166.99L326.25 167.11L326.60 167.26L326.95 167.36L327.30 167.15L327.65 167.77L328.00 167.92L328.35 169.80L328.70 168.80L329.05 168.88L329.40 168.99L329.75 169.29L330.10 169.44L330.45 170.16L330.80 170.05L331.15 170.79L331.50 170.11L331.85 170.97L332.20 171.52L332.55 170.52L332.90 171.54L333.25 171.82L333.60 171.69L333.95 171.82L334.30 171.22L334.65 173.25L335.00 172.22L335.35 172.25L335.70 173.61L336.05 172.33L336.40 174.22L336.75 174.11L337.10 174.42L337.45 174.18L337.80 173.75L338.00 173.47" fill="none" stroke="#ff0000" stroke-width="1.5" stroke-linejoin="round" stroke-linecap="butt"/>
<path d="M55.00 201.21L55.35 201.41L55.70 199.90L56.05 202.50L56.40 200.05L56.75 200.66L57.10 201.55L57.45 200.28L57.80 200.36L58.15 200.42L58.50 201.39L58.85 202.56L59.20 200.94L59.55 200.08L59.90 201.19L60.25 200.35L60.60 200.70L60.95 201.49L61.30 200.10L61.65 200.58L62.00 199.91L62.35 200.37L62.70 200.61L63.05 199.69L63.40 200.10L63.75 200.12L64.10 199.79L64.45 199.36L64.80 199.15L65.15 200.00L65.50 199.87L65.85 201.58L66.20 198.27L66.55 200.01L66.90 200.14L67.25 200.79L67.60 200.14L67.95 199.14L68.30 199.68L68.65 200.01L69.00 199.37L69.35 200.08L69.70 198.19L70.05 200.67L70.40 200.44L70.75 199.15L71.10 199.78L71.45 199.37L71.80 198.73L72.15 199.37L72.50 200.00L72.85 199.04L73.20 199.05L73.55 199.27L73.90 199.64L74.25 200.25L74.60 198.94L74.95 199.76L75.30 199.58L75.65 198.16L76.00 199.20L76.35 199.43L76.70 199.53L77.05 199.82L77.40 198.19L77.75 199.68L78.10 199.21L78.45 198.70L78.80 200.10L79.15 200.27L79.50 199.32L79.85 200.38L80.20 199.54L80.55 199.87L80.90 199.07L81.25 200.96L81.60 198.00L81.95 199.81L82.30 200.37L82.65 198.48L83.00 199.78L83.35 199.87L83.70 200.51L84.05 200.82L84.40 199.67L84.75 198.99L85.10 200.93L85.45 200.83L85.80 199.66L86.15 200.24L86.50 200.26L86.85 200.39L87.20 200.14L87.55 200.98L87.90 198.78L88.25 200.71L88.60 200.22L88.95 199.77L89.30 200.70L89.65 198.19L90.00 200.59L90.35 199.99L90.70 198.86L91.05 199.89L91.40 199.31L91.75 201.26L92.10 200.66L92.45 199.61L92.80 198.73L93.15 198.75L93.50 198.86L93.85 198.63L94.20 198.33L94.55 198.48L94.90 198.64L95.25 198.40L95.60 198.20L95.95 197.96L96.30 200.32L96.65 197.42L97.00 197.66L97.35 198.60L97.70 197.99L98.05 198.44L98.40 198.63L98.75 198.88L99.10 198.45L99.45 197.16L99.80 198.56L100.15 196.49L100.50 197.58L100.85 197.25L101.20 196.80L101.55 197.90L101.90 197.30L102.25 198.09L102.60 196.28L102.95 197.86L103.30 197.56L103.65 197.25L104.00 196.12L104.35 196.88L104.70 195.92L105.05 195.49L105.40 199.19L105.75 197.52L106.10 198.04L106.45 196.43L106.80 197.16L107.15 197.11L107.50 196.98L107.85 196.51L108.20 196.29L108.55 194.95L108.90 196.77L109.25 196.58L109.60 197.01L109.95 195.98L110.30 197.34L110.65 195.75L111.00 195.13L111.35 196.60L111.70 195.56L112.05 194.95L112.40 195.85L112.75 196.24L113.10 195.81L113.45 195.93L113.80 198.39L114.15 196.03L114.50 196.46L114.85 193.93L115.20 195.51L115.55 195.72L115.90 194.86L116.25 194.43L116.60 195.26L116.95 194.69L117.30 194.42L117.65 195.57L118.00 195.63L118.35 194.84L118.70 194.24L119.05 194.85L119.40 195.01L119.75 194.80L120.10 193.28L120.45 193.99L120.80 194.41L121.15 194.53L121.50 194.70L121.85 194.49L122.20 193.10L122.55 193.33L122.90 192.89L123.25 194.94L123.60 193.72L123.95 193.90L124.30 194.15L124.65 193.11L125.00 192.44L125.35 192.85L125.70 192.94L126.05 193.99L126.40 193.43L126.75 191.93L127.10 193.03L127.45 192.95L127.80 191.56L128.15 192.09L128.50 190.73L128.85 192.11L129.20 191.51L129.55 190.65L129.90 190.96L130.25 191.47L130.60 190.77L130.95 191.23L131.30 191.27L131.65 190.15L132.00 190.38L132.35 191.96L132.70 190.40L133.05 189.58L133.40 190.07L133.75 188.95L134.10 190.53L134.45 189.85L134.80 190.21L135.15 189.93L135.50 189.42L135.85 189.68L136.20 188.97L136.55 188.22L136.90 187.81L137.25 188.05L137.60 186.45L137.95 189.32L138.30 186.67L138.65 187.64L139.00 186.59L139.35 185.92L139.70 187.10L140.05 186.76L140.40 186.68L140.75 186.99L141.10 185.99L141.45 186.50L141.80 186.41L142.15 185.63L142.50 185.47L142.85 185.86L143.20 185.33L143.55 185.21L143.90 183.24L144.25 184.75L144.60 184.78L144.95 184.23L145.30 184.37L145.65 185.28L146.00 183.82L146.35 184.03L146.70 182.78L147.05 182.59L147.40 182.66L147.75 182.09L148.10 182.61L148.45 181.76L148.80 182.09L149.15 181.01L149.50 180.65L149.85 181.12L150.20 180.63L150.55 180.69L150.90 180.49L151.25 180.43L151.60 181.17L151.95 181.15L152.30 180.45L152.65 179.44L153.00 180.49L153.35 178.11L153.70 177.51L154.05 178.86L154.40 178.42L154.75 178.08L155.10 177.95L155.45 176.54L155.80 176.64L156.15 178.07L156.50 177.68L156.85 176.22L157.20 177.84L157.55 175.50L157.90 175.60L158.25 175.96L158.60 174.68L158.95 174.92L159.30 174.89L159.65 174.48L160.00 175.11L160.35 174.65L160.70 173.20L161.05 173.22L161.40 173.55L161.75 173.10L162.10 172.32L162.45 172.89L162.80 172.88L163.15 171.58L163.50 172.29L163.85 170.31L164.20 170.03L164.55 171.22L164.90 170.00L165.25 169.60L165.60 169.83L165.95 169.26L166.30 169.68L166.65 168.16L167.00 168.64L167.35 170.83L167.70 168.41L168.05 166.70L168.40 168.16L168.75 167.82L169.10 168.09L169.45 166.90L169.80 165.99L170.15 167.07L170.50 166.21L170.85 164.12L171.20 165.42L171.55 164.35L171.90 164.77L172.25 163.39L172.60 163.64L172.95 162.82L173.30 162.57L173.65 161.74L174.00 161.04L174.35 160.82L174.70 160.63L175.05 160.03L175.40 160.15L175.75 159.05L176.10 158.67L176.45 158.88L176.80 157.43L177.15 157.15L177.50 156.16L177.85 155.94L178.20 156.10L178.55 155.04L178.90 154.96L179.25 153.48L179.60 152.84L179.95 152.92L180.30 151.80L180.65 152.59L181.00 151.56L181.35 150.22L181.70 149.99L182.05 149.30L182.40 149.01L182.75 148.30L183.10 148.00L183.45 147.57L183.80 146.52L184.15 145.68L184.50 145.60L184.85 144.84L185.20 144.66L185.55 143.75L185.90 143.47L186.25 142.76L186.60 142.03L186.95 141.36L187.30 141.06L187.65 140.90L188.00 139.73L188.35 138.71L188.70 138.11L189.05 137.06L189.40 135.73L189.75 135.22L190.10 134.60L190.45 133.12L190.80 131.95L191.15 131.49L191.50 131.01L191.85 129.94L192.20 129.16L192.55 128.73L192.90 127.77L193.25 126.76L193.60 125.76L193.95 125.14L194.30 124.39L194.65 124.02L195.00 122.94L195.35 123.05L195.70 122.09L196.05 121.37L196.40 121.12L196.75 119.68L197.10 119.34L197.45 118.64L197.80 118.23L198.15 116.89L198.50 116.29L198.85 114.50L199.20 113.41L199.55 111.66L199.90 110.77L200.25 108.98L200.60 107.87L200.95 106.29L201.30 104.82L201.65 103.75L202.00 102.81L202.35 100.87L202.70 99.37L203.05 98.31L203.40 97.14L203.75 95.12L204.10 93.75L204.45 92.47L204.80 90.91L205.15 89.74L205.50 88.70L205.85 87.11L206.20 85.84L206.55 84.83L206.90 83.34L207.25 81.84L207.60 80.61L207.95 79.37L208.30 78.96L208.65 77.09L209.00 75.82L209.35 74.26L209.70 72.12L210.05 70.87L210.40 68.87L210.75 66.80L211.10 65.68L211.45 63.79L211.80 62.35L212.15 60.89L212.50 59.77L212.85 57.32L213.20 55.75L213.55 54.26L213.90 52.60L214.25 50.96L214.60 49.19L214.95 47.72L215.30 46.37L215.65 44.43L216.00 42.71L216.35 40.57L216.70 39.31L217.05 36.85L217.40 36.26L217.75 34.13L218.10 32.67L218.45 31.39L218.80 30.77L219.15 29.76L219.50 28.26L219.85 27.69L220.20 26.71L220.55 25.98L220.90 25.54L221.25 25.23L221.60 24.05L221.95 23.60L222.30 23.99L222.65 23.69L223.00 23.70L223.35 22.84L223.70 22.89L224.05 23.49L224.40 22.64L224.75 23.11L225.10 22.82L225.45 23.00L225.80 22.81L226.15 23.62L226.50 22.87L226.85 23.22L227.20 23.54L227.55 24.41L227.90 24.48L228.25 24.98L228.60 25.30L228.95 26.14L229.30 27.23L229.65 28.58L230.00 29.26L230.35 29.87L230.70 31.79L231.05 32.83L231.40 34.08L231.75 36.13L232.10 37.75L232.45 40.54L232.80 41.90L233.15 43.61L233.50 46.58L233.85 48.70L234.20 51.86L234.55 54.31L234.90 56.53L235.25 59.38L235.60 61.43L235.95 63.64L236.30 65.91L236.65 68.09L237.00 71.63L237.35 74.43L237.70 77.53L238.05 81.18L238.40 84.66L238.75 86.97L239.10 90.61L239.45 92.41L239.80 95.95L240.15 98.29L240.50 101.04L240.85 103.49L241.20 106.60L241.55 110.04L241.90 113.44L242.25 116.72L242.60 119.85L242.95 121.36L243.30 123.69L243.65 125.37L244.00 127.29L244.35 130.57L244.70 131.96L245.05 134.25L245.40 136.56L245.75 138.84L246.10 140.64L246.45 142.99L246.80 144.29L247.15 145.66L247.50 148.01L247.85 149.78L248.20 151.27L248.55 153.16L248.90 154.81L249.25 157.16L249.60 158.17L249.95 159.62L250.30 161.75L250.65 162.82L251.00 165.12L251.35 166.81L251.70 168.19L252.05 169.99L252.40 171.70L252.75 174.01L253.10 175.31L253.45 176.44L253.80 177.96L254.15 179.81L254.50 181.33L254.85 182.57L255.20 184.26L255.55 185.43L255.90 186.98L256.25 187.89L256.60 188.77L256.95 189.80L257.30 190.43L257.65 191.79L258.00 192.48L258.35 193.05L258.70 193.97L259.05 194.55L259.40 196.13L259.75 196.02L260.10 196.95L260.45 197.52L260.80 197.75L261.15 198.45L261.50 198.80L261.85 199.37L262.20 199.75L262.55 200.26L262.90 200.60L263.25 200.58L263.60 200.84L263.95 201.10L264.30 201.28L264.65 201.29L265.00 202.19L265.35 202.23L265.70 202.41L266.05 202.21L266.40 202.44L266.75 202.33L267.10 203.16L267.45 203.51L267.80 203.63L268.15 203.57L268.50 203.40L268.85 203.84L269.20 203.96L269.55 204.31L269.90 204.45L270.25 204.19L270.60 204.36L270.95 204.72L271.30 204.71L271.65 204.52L272.00 203.73L272.35 204.40L272.70 205.09L273.05 204.81L273.40 205.22L273.75 204.63L274.10 204.87L274.45 205.25L274.80 205.23L275.15 205.10L275.50 205.51L275.85 205.67L276.20 205.74L276.55 204.01L276.90 204.69L277.25 204.79L277.60 204.77L277.95 203.97L278.30 205.83L278.65 204.35L279.00 205.05L279.35 203.34L279.70 204.58L280.05 204.71L280.40 204.18L280.75 205.29L281.10 206.37L281.45 204.02L281.80 203.94L282.15 205.69L282.50 204.77L282.85 204.06L283.20 203.29L283.55 204.61L283.90 204.15L284.25 204.99L284.60 203.20L284.95 203.59L285.30 203.40L285.65 203.37L286.00 204.16L286.35 203.89L286.70 202.74L287.05 203.00L287.40 202.78L287.75 203.44L288.10 202.56L288.45 201.76L288.80 202.17L289.15 202.23L289.50 202.77L289.85 202.87L290.20 202.74L290.55 201.94L290.90 201.18L291.25 201.80L291.60 201.11L291.95 200.65L292.30 201.14L292.65 201.06L293.00 201.22L293.35 199.82L293.70 199.11L294.05 200.46L294.40 199.26L294.75 200.46L295.10 198.82L295.45 199.00L295.80 197.96L296.15 200.48L296.50 198.54L296.85 198.62L297.20 198.12L297.55 198.14L297.90 198.69L298.25 198.00L298.60 197.73L298.95 198.37L299.30 196.40L299.65 197.94L300.00 198.06L300.35 195.77L300.70 196.73L301.05 195.43L301.40 194.65L301.75 195.32L302.10 196.07L302.45 196.02L302.80 195.02L303.15 194.45L303.50 194.53L303.85 194.11L304.20 193.95L304.55 192.48L304.90 193.78L305.25 193.64L305.60 195.02L305.95 193.74L306.30 192.94L306.65 192.86L307.00 192.81L307.35 191.85L307.70 190.64L308.05 191.35L308.40 191.46L308.75 191.46L309.10 190.63L309.45 190.24L309.80 190.45L310.15 190.42L310.50 190.54L310.85 189.72L311.20 189.94L311.55 188.69L311.90 189.70L312.25 188.84L312.60 187.68L312.95 188.20L313.30 188.20L313.65 187.13L314.00 188.14L314.35 187.15L314.70 187.46L315.05 186.20L315.40 186.87L315.75 186.92L316.10 185.86L316.45 185.79L316.80 185.28L317.15 185.67L317.50 185.21L317.85 185.29L318.20 184.64L318.55 183.54L318.90 183.25L319.25 183.58L319.60 183.95L319.95 184.94L320.30 183.68L320.65 182.35L321.00 181.07L321.35 182.54L321.70 181.86L322.05 180.66L322.40 181.79L322.75 180.81L323.10 180.14L323.45 178.71L323.80 180.37L324.15 179.37L324.50 178.78L324.85 177.92L325.20 177.98L325.55 178.77L325.90 177.94L326.25 178.67L326.60 177.72L326.95 176.93L327.30 177.03L327.65 176.24L328.00 174.84L328.35 175.16L328.70 175.55L329.05 174.40L329.40 174.42L329.75 173.64L330.10 175.42L330.45 173.03L330.80 172.93L331.15 172.74L331.50 173.74L331.85 173.55L332.20 172.06L332.55 172.54L332.90 171.20L333.25 171.52L333.60 173.03L333.95 171.54L334.30 170.53L334.65 169.31L335.00 169.70L335.35 168.65L335.70 167.72L336.05 169.33L336.40 168.98L336.75 168.37L337.10 168.59L337.45 166.37L337.80 168.17L338.00 166.24" fill="none" stroke="#008000" stroke-width="1.5" stroke-linejoin="round" stroke-linecap="butt"/>
<path d="M55.00 59.00L56.00 60.99L57.00 62.99L58.00 65.00L59.00 67.01L60.00 69.03L61.00 71.07L62.00 73.12L63.00 75.19L64.00 77.29L65.00 79.39L66.00 81.50L67.00 83.63L68.00 85.78L69.00 87.92L70.00 90.00L71.00 92.01L72.00 93.98L73.00 95.93L74.00 97.89L75.00 99.85L76.00 101.80L77.00 103.73L78.00 105.60L79.00 107.46L80.00 109.41L81.00 111.60L82.00 113.82L83.00 115.87L84.00 117.83L85.00 119.70L86.00 121.48L87.00 123.19L88.00 124.86L89.00 126.52L90.00 128.20L91.00 129.91L92.00 131.64L93.00 133.36L94.00 135.05L95.00 136.70L96.00 138.30L97.00 139.86L98.00 141.40L99.00 142.93L100.00 144.45L101.00 145.99L102.00 147.55L103.00 149.11L104.00 150.66L105.00 152.17L106.00 153.63L107.00 155.03L108.00 156.35L109.00 157.60L110.00 158.80L111.00 159.96L112.00 161.09L113.00 162.20L114.00 163.30L115.00 164.38L116.00 165.44L117.00 166.48L118.00 167.50L119.00 168.49L120.00 169.45L121.00 170.38L122.00 171.29L123.00 172.18L124.00 173.04L125.00 173.88L126.00 174.70L127.00 175.49L128.00 176.25L129.00 176.99L130.00 177.72L131.00 178.45L132.00 179.21L133.00 180.00L134.00 180.86L135.00 181.73L136.00 182.58L137.00 183.36L138.00 184.02L139.00 184.62L140.00 185.16L141.00 185.68L142.00 186.18L143.00 186.67L144.00 187.17L145.00 187.70L146.00 188.25L147.00 188.80L148.00 189.35L149.00 189.91L150.00 190.47L151.00 191.03L152.00 191.58L153.00 192.13L154.00 192.67L155.00 193.20L156.00 193.73L157.00 194.26L158.00 194.79L159.00 195.31L160.00 195.82L161.00 196.30L162.00 196.77L163.00 197.20L164.00 197.60L165.00 197.98L166.00 198.35L167.00 198.69L168.00 199.03L169.00 199.37L170.00 199.70L171.00 200.03L172.00 200.35L173.00 200.66L174.00 200.97L175.00 201.28L176.00 201.58L177.00 201.89L178.00 202.20L179.00 202.51L180.00 202.82L181.00 203.13L182.00 203.44L183.00 203.75L184.00 204.07L185.00 204.40L186.00 204.73L187.00 205.08L188.00 205.43L189.00 205.78L190.00 206.15L191.00 206.52L192.00 206.91L193.00 207.30L194.00 207.70L195.00 208.12L196.00 208.55L197.00 208.99L198.00 209.43L199.00 209.88L200.00 210.34L201.00 210.80L202.00 211.26L203.00 211.72L204.00 212.19L205.00 212.67L206.00 213.17L207.00 213.70L208.00 214.25L209.00 214.83L210.00 215.44L211.00 216.06L212.00 216.71L213.00 217.37L214.00 218.04L215.00 218.74L216.00 219.46L217.00 220.21L218.00 221.00L219.00 221.85L220.00 222.77L221.00 223.71L222.00 224.63L223.00 225.50L224.00 226.34L225.00 227.17L226.00 227.97L227.00 228.69L228.00 229.30L229.00 229.87L230.00 230.42L231.00 230.84L232.00 231.00L233.00 230.94L234.00 230.79L235.00 230.56L236.00 230.29L237.00 230.00L238.00 229.62L239.00 229.10L240.00 228.47L241.00 227.77L242.00 227.05L243.00 226.34L244.00 225.66L245.00 224.96L246.00 224.24L247.00 223.49L248.00 222.75L249.00 222.02L250.00 221.30L251.00 220.60L252.00 219.90L253.00 219.21L254.00 218.53L255.00 217.86L256.00 217.20L257.00 216.55L258.00 215.90L259.00 215.26L260.00 214.63L261.00 214.01L262.00 213.40L263.00 212.80L264.00 212.21L265.00 211.62L266.00 211.04L267.00 210.47L268.00 209.91L269.00 209.36L270.00 208.82L271.00 208.30L272.00 207.79L273.00 207.30L274.00 206.81L275.00 206.34L276.00 205.87L277.00 205.40L278.00 204.94L279.00 204.47L280.00 204.00L281.00 203.52L282.00 203.05L283.00 202.57L284.00 202.09L285.00 201.61L286.00 201.14L287.00 200.66L288.00 200.19L289.00 199.72L290.00 199.26L291.00 198.80L292.00 198.34L293.00 197.89L294.00 197.44L295.00 196.99L296.00 196.55L297.00 196.10L298.00 195.66L299.00 195.22L300.00 194.79L301.00 194.35L302.00 193.92L303.00 193.49L304.00 193.06L305.00 192.63L306.00 192.20L307.00 191.78L308.00 191.36L309.00 190.95L310.00 190.55L311.00 190.15L312.00 189.75L313.00 189.35L314.00 188.95L315.00 188.54L316.00 188.14L317.00 187.73L318.00 187.31L319.00 186.88L320.00 186.45L321.00 186.00L322.00 185.55L323.00 185.08L324.00 184.62L325.00 184.15L326.00 183.67L327.00 183.18L328.00 182.70L329.00 182.20L330.00 181.70L331.00 181.19L332.00 180.68L333.00 180.16L334.00 179.64L335.00 179.11L336.00 178.58L337.00 178.04L338.00 177.50" fill="none" stroke="#0000ff" stroke-width="1.5" stroke-linejoin="round" stroke-linecap="butt" stroke-dasharray="5.55 2.4"/>
<path d="M55.00 71.30L56.00 72.08L57.00 72.84L58.00 73.58L59.00 74.30L60.00 75.00L61.00 75.67L62.00 76.30L63.00 76.93L64.00 77.56L65.00 78.23L66.00 78.95L67.00 79.70L68.00 80.47L69.00 81.23L70.00 81.97L71.00 82.67L72.00 83.38L73.00 84.07L74.00 84.75L75.00 85.43L76.00 86.10L77.00 86.76L78.00 87.42L79.00 88.06L80.00 88.70L81.00 89.33L82.00 89.95L83.00 90.56L84.00 91.16L85.00 91.76L86.00 92.35L87.00 92.94L88.00 93.52L89.00 94.11L90.00 94.70L91.00 95.29L92.00 95.88L93.00 96.46L94.00 97.05L95.00 97.63L96.00 98.21L97.00 98.79L98.00 99.36L99.00 99.93L100.00 100.50L101.00 101.07L102.00 101.63L103.00 102.20L104.00 102.76L105.00 103.33L106.00 103.88L107.00 104.44L108.00 104.99L109.00 105.54L110.00 106.08L111.00 106.61L112.00 107.14L113.00 107.66L114.00 108.18L115.00 108.69L116.00 109.19L117.00 109.69L118.00 110.19L119.00 110.69L120.00 111.18L121.00 111.67L122.00 112.15L123.00 112.64L124.00 113.12L125.00 113.60L126.00 114.08L127.00 114.55L128.00 115.02L129.00 115.48L130.00 115.95L131.00 116.41L132.00 116.87L133.00 117.33L134.00 117.79L135.00 118.26L136.00 118.73L137.00 119.20L138.00 119.67L139.00 120.15L140.00 120.62L141.00 121.09L142.00 121.57L143.00 122.04L144.00 122.52L145.00 123.01L146.00 123.49L147.00 123.98L148.00 124.48L149.00 124.99L150.00 125.50L151.00 126.03L152.00 126.58L153.00 127.15L154.00 127.72L155.00 128.30L156.00 128.87L157.00 129.43L158.00 129.98L159.00 130.50L160.00 131.00L161.00 131.47L162.00 131.91L163.00 132.34L164.00 132.76L165.00 133.16L166.00 133.56L167.00 133.96L168.00 134.35L169.00 134.76L170.00 135.17L171.00 135.59L172.00 136.02L173.00 136.48L174.00 136.95L175.00 137.43L176.00 137.92L177.00 138.42L178.00 138.93L179.00 139.43L180.00 139.95L181.00 140.46L182.00 140.98L183.00 141.49L184.00 142.00L185.00 142.50L186.00 143.00L187.00 143.51L188.00 144.02L189.00 144.53L190.00 145.05L191.00 145.56L192.00 146.07L193.00 146.57L194.00 147.07L195.00 147.56L196.00 148.04L197.00 148.52L198.00 148.98L199.00 149.44L200.00 149.89L201.00 150.34L202.00 150.77L203.00 151.20L204.00 151.61L205.00 152.00L206.00 152.40L207.00 152.80L208.00 153.18L209.00 153.51L210.00 153.75L211.00 153.94L212.00 154.12L213.00 154.26L214.00 154.36L215.00 154.40L216.00 154.19L217.00 153.66L218.00 153.00L219.00 152.12L220.00 150.91L221.00 149.50L222.00 147.78L223.00 145.72L224.00 143.50L225.00 141.16L226.00 138.63L227.00 136.00L228.00 133.28L229.00 130.45L230.00 127.50L231.00 124.46L232.00 121.23L233.00 117.61L234.00 113.50L235.00 109.50L236.00 105.60L237.00 102.66L238.00 100.40L239.00 98.70L240.00 97.31L241.00 96.30L242.00 95.58L243.00 95.02L244.00 94.70L245.00 94.56L246.00 94.50L247.00 94.63L248.00 94.93L249.00 95.30L250.00 95.76L251.00 96.37L252.00 97.09L253.00 97.89L254.00 98.71L255.00 99.65L256.00 100.71L257.00 101.82L258.00 102.95L259.00 104.05L260.00 105.16L261.00 106.30L262.00 107.44L263.00 108.57L264.00 109.68L265.00 110.77L266.00 111.85L267.00 112.93L268.00 114.00L269.00 115.05L270.00 116.08L271.00 117.12L272.00 118.19L273.00 119.33L274.00 120.56L275.00 121.84L276.00 123.12L277.00 124.37L278.00 125.53L279.00 126.57L280.00 127.52L281.00 128.46L282.00 129.42L283.00 130.36L284.00 131.30L285.00 132.26L286.00 133.23L287.00 134.25L288.00 135.35L289.00 136.52L290.00 137.74L291.00 138.93L292.00 140.06L293.00 141.07L294.00 141.95L295.00 142.74L296.00 143.47L297.00 144.17L298.00 144.86L299.00 145.56L300.00 146.30L301.00 147.07L302.00 147.84L303.00 148.62L304.00 149.41L305.00 150.20L306.00 151.00L307.00 151.80L308.00 152.60L309.00 153.40L310.00 154.20L311.00 155.00L312.00 155.80L313.00 156.60L314.00 157.41L315.00 158.23L316.00 159.05L317.00 159.88L318.00 160.71L319.00 161.53L320.00 162.35L321.00 163.15L322.00 163.94L323.00 164.72L324.00 165.47L325.00 166.20L326.00 166.91L327.00 167.61L328.00 168.30L329.00 168.98L330.00 169.65L331.00 170.31L332.00 170.96L333.00 171.60L334.00 172.22L335.00 172.84L336.00 173.44L337.00 174.03L338.00 174.60" fill="none" stroke="#ff0000" stroke-width="1.5" stroke-linejoin="round" stroke-linecap="butt" stroke-dasharray="5.55 2.4"/>
<path d="M55.00 201.50L56.00 201.36L57.00 201.23L58.00 201.10L59.00 200.97L60.00 200.85L61.00 200.74L62.00 200.63L63.00 200.54L64.00 200.45L65.00 200.37L66.00 200.30L67.00 200.24L68.00 200.19L69.00 200.14L70.00 200.10L71.00 200.05L72.00 200.02L73.00 199.98L74.00 199.94L75.00 199.91L76.00 199.87L77.00 199.83L78.00 199.79L79.00 199.75L80.00 199.70L81.00 199.65L82.00 199.60L83.00 199.55L84.00 199.49L85.00 199.44L86.00 199.38L87.00 199.32L88.00 199.26L89.00 199.20L90.00 199.13L91.00 199.05L92.00 198.98L93.00 198.89L94.00 198.80L95.00 198.69L96.00 198.57L97.00 198.43L98.00 198.27L99.00 198.10L100.00 197.92L101.00 197.73L102.00 197.54L103.00 197.35L104.00 197.16L105.00 196.98L106.00 196.80L107.00 196.63L108.00 196.46L109.00 196.30L110.00 196.14L111.00 195.97L112.00 195.81L113.00 195.64L114.00 195.47L115.00 195.29L116.00 195.10L117.00 194.91L118.00 194.71L119.00 194.49L120.00 194.27L121.00 194.04L122.00 193.80L123.00 193.54L124.00 193.28L125.00 193.02L126.00 192.74L127.00 192.45L128.00 192.15L129.00 191.84L130.00 191.53L131.00 191.20L132.00 190.85L133.00 190.48L134.00 190.09L135.00 189.67L136.00 189.25L137.00 188.81L138.00 188.37L139.00 187.93L140.00 187.50L141.00 187.08L142.00 186.66L143.00 186.25L144.00 185.84L145.00 185.41L146.00 184.98L147.00 184.52L148.00 184.05L149.00 183.54L150.00 183.00L151.00 182.40L152.00 181.73L153.00 181.01L154.00 180.25L155.00 179.48L156.00 178.71L157.00 177.96L158.00 177.25L159.00 176.55L160.00 175.86L161.00 175.17L162.00 174.48L163.00 173.78L164.00 173.05L165.00 172.30L166.00 171.52L167.00 170.72L168.00 169.91L169.00 169.07L170.00 168.21L171.00 167.34L172.00 166.45L173.00 165.55L174.00 164.68L175.00 163.80L176.00 162.86L177.00 161.80L178.00 160.57L179.00 158.92L180.00 157.07L181.00 155.39L182.00 153.76L183.00 152.14L184.00 150.50L185.00 148.86L186.00 147.23L187.00 145.57L188.00 143.85L189.00 142.00L190.00 139.99L191.00 137.84L192.00 135.59L193.00 133.29L194.00 131.00L195.00 128.69L196.00 126.33L197.00 124.00L198.00 121.79L199.00 119.63L200.00 117.28L201.00 114.50L202.00 111.28L203.00 107.90L204.00 104.63L205.00 101.39L206.00 98.00L207.00 94.31L208.00 90.50L209.00 86.75L210.00 83.00L211.00 79.32L212.00 75.33L213.00 70.89L214.00 66.51L215.00 62.00L216.00 57.00L217.00 52.07L218.00 47.40L219.00 43.05L220.00 39.06L221.00 35.35L222.00 31.14L223.00 26.88L224.00 24.44L225.00 23.14L226.00 22.57L227.00 22.62L228.00 23.16L229.00 24.20L230.00 26.08L231.00 29.21L232.00 33.80L233.00 38.50L234.00 43.19L235.00 50.80L236.00 59.33L237.00 67.50L238.00 76.00L239.00 85.00L240.00 93.39L241.00 101.06L242.00 109.64L243.00 118.49L244.00 124.95L245.00 131.10L246.00 137.14L247.00 142.75L248.00 148.01L249.00 153.00L250.00 157.70L251.00 162.22L252.00 166.84L253.00 171.56L254.00 176.00L255.00 180.04L256.00 183.77L257.00 187.18L258.00 190.37L259.00 193.00L260.00 195.07L261.00 196.86L262.00 198.36L263.00 199.60L264.00 200.72L265.00 201.69L266.00 202.44L267.00 202.92L268.00 203.33L269.00 203.68L270.00 203.91L271.00 204.00L272.00 203.94L273.00 203.78L274.00 203.55L275.00 203.28L276.00 203.00L277.00 202.67L278.00 202.26L279.00 201.78L280.00 201.27L281.00 200.75L282.00 200.21L283.00 199.62L284.00 198.99L285.00 198.35L286.00 197.68L287.00 197.01L288.00 196.33L289.00 195.66L290.00 194.98L291.00 194.28L292.00 193.57L293.00 192.86L294.00 192.15L295.00 191.44L296.00 190.75L297.00 190.07L298.00 189.39L299.00 188.71L300.00 188.04L301.00 187.37L302.00 186.70L303.00 186.03L304.00 185.37L305.00 184.71L306.00 184.06L307.00 183.40L308.00 182.75L309.00 182.09L310.00 181.43L311.00 180.75L312.00 180.06L313.00 179.35L314.00 178.64L315.00 177.92L316.00 177.21L317.00 176.50L318.00 175.81L319.00 175.15L320.00 174.49L321.00 173.82L322.00 173.12L323.00 172.39L324.00 171.59L325.00 170.73L326.00 169.81L327.00 168.86L328.00 167.88L329.00 166.90L330.00 165.93L331.00 165.00L332.00 164.09L333.00 163.19L334.00 162.29L335.00 161.40L336.00 160.51L337.00 159.63L338.00 158.75" fill="none" stroke="#008000" stroke-width="1.5" stroke-linejoin="round" stroke-linecap="butt" stroke-dasharray="5.55 2.4"/>
</g>
<g clip-path="url(#cr)">
<path d="M394.50 64.55L394.85 64.41L395.20 61.86L395.55 61.51L395.90 60.30L396.25 62.51L396.60 61.51L396.95 61.22L397.30 59.83L397.65 59.41L398.00 57.59L398.35 58.95L398.70 56.64L399.05 56.45L399.40 56.16L399.75 55.47L400.10 56.01L400.45 54.91L400.80 54.56L401.15 54.01L401.50 54.47L401.85 52.81L402.20 52.56L402.55 52.39L402.90 50.61L403.25 50.76L403.60 50.82L403.95 50.64L404.30 49.47L404.65 48.41L405.00 49.11L405.35 47.54L405.70 47.14L406.05 46.67L406.40 45.98L406.75 45.14L407.10 45.20L407.45 43.66L407.80 43.52L408.15 43.03L408.50 42.18L408.85 42.27L409.20 41.79L409.55 41.20L409.90 40.52L410.25 40.41L410.60 40.62L410.95 39.78L411.30 36.98L411.65 39.30L412.00 37.30L412.35 37.20L412.70 38.20L413.05 37.19L413.40 38.80L413.75 38.15L414.10 37.07L414.45 36.36L414.80 37.28L415.15 37.43L415.50 35.85L415.85 35.66L416.20 33.54L416.55 32.60L416.90 31.35L417.25 31.83L417.60 31.91L417.95 31.57L418.30 34.90L418.65 33.98L419.00 34.57L419.35 35.58L419.70 35.11L420.05 35.43L420.40 35.80L420.75 35.06L421.10 36.85L421.45 36.30L421.80 35.84L422.15 36.83L422.50 36.51L422.85 35.70L423.20 36.30L423.55 36.11L423.90 36.18L424.25 36.05L424.60 36.09L424.95 34.77L425.30 35.32L425.65 34.60L426.00 35.30L426.35 34.05L426.70 33.36L427.05 34.23L427.40 35.82L427.75 34.78L428.10 33.94L428.45 35.18L428.80 33.37L429.15 33.20L429.50 33.65L429.85 33.18L430.20 32.83L430.55 32.50L430.90 32.68L431.25 33.33L431.60 31.92L431.95 32.31L432.30 33.52L432.65 34.25L433.00 31.64L433.35 33.00L433.70 33.75L434.05 32.65L434.40 32.45L434.75 33.54L435.10 32.47L435.45 32.36L435.80 32.44L436.15 31.94L436.50 31.32L436.85 33.43L437.20 33.73L437.55 32.83L437.90 32.55L438.25 32.94L438.60 32.50L438.95 31.53L439.30 31.83L439.65 32.78L440.00 32.27L440.35 31.54L440.70 31.58L441.05 32.99L441.40 31.47L441.75 33.04L442.10 32.62L442.45 31.69L442.80 32.07L443.15 32.32L443.50 32.40L443.85 32.30L444.20 32.96L444.55 32.62L444.90 31.71L445.25 31.86L445.60 31.34L445.95 31.49L446.30 31.76L446.65 30.21L447.00 31.59L447.35 31.41L447.70 31.22L448.05 30.52L448.40 30.92L448.75 30.79L449.10 31.28L449.45 30.02L449.80 31.54L450.15 32.35L450.50 31.91L450.85 32.26L451.20 33.66L451.55 35.18L451.90 34.28L452.25 34.60L452.60 34.53L452.95 35.27L453.30 35.46L453.65 34.84L454.00 35.89L454.35 36.46L454.70 35.68L455.05 36.49L455.40 37.15L455.75 37.10L456.10 36.61L456.45 37.96L456.80 37.42L457.15 36.74L457.50 35.78L457.85 36.84L458.20 37.19L458.55 36.95L458.90 37.27L459.25 38.31L459.60 37.90L459.95 38.30L460.30 36.75L460.65 37.66L461.00 38.54L461.35 37.32L461.70 39.06L462.05 37.21L462.40 37.66L462.75 39.05L463.10 36.91L463.45 38.79L463.80 37.64L464.15 37.79L464.50 38.61L464.85 38.66L465.20 39.14L465.55 38.84L465.90 38.88L466.25 38.49L466.60 39.52L466.95 38.01L467.30 40.05L467.65 39.95L468.00 40.82L468.35 41.01L468.70 39.48L469.05 40.87L469.40 40.21L469.75 40.56L470.10 41.51L470.45 41.50L470.80 41.68L471.15 41.57L471.50 41.93L471.85 41.35L472.20 41.85L472.55 42.80L472.90 41.94L473.25 42.47L473.60 43.49L473.95 43.21L474.30 42.92L474.65 43.76L475.00 44.52L475.35 43.30L475.70 43.11L476.05 44.23L476.40 43.76L476.75 44.19L477.10 44.18L477.45 44.10L477.80 44.72L478.15 44.97L478.50 44.31L478.85 45.67L479.20 45.99L479.55 45.19L479.90 45.54L480.25 46.46L480.60 44.90L480.95 45.17L481.30 45.70L481.65 46.03L482.00 46.55L482.35 46.46L482.70 45.33L483.05 47.22L483.40 47.45L483.75 46.29L484.10 47.34L484.45 46.80L484.80 47.09L485.15 47.11L485.50 48.66L485.85 47.40L486.20 48.11L486.55 48.70L486.90 48.09L487.25 48.71L487.60 49.06L487.95 50.40L488.30 48.88L488.65 49.92L489.00 50.33L489.35 50.30L489.70 51.55L490.05 51.00L490.40 51.01L490.75 52.05L491.10 52.62L491.45 51.65L491.80 52.99L492.15 53.21L492.50 53.07L492.85 52.92L493.20 54.23L493.55 54.37L493.90 53.69L494.25 54.21L494.60 55.80L494.95 54.56L495.30 53.92L495.65 55.15L496.00 55.60L496.35 56.11L496.70 55.60L497.05 57.18L497.40 55.86L497.75 56.41L498.10 57.10L498.45 56.62L498.80 55.26L499.15 57.26L499.50 57.12L499.85 56.68L500.20 57.91L500.55 57.98L500.90 57.14L501.25 56.70L501.60 56.62L501.95 57.70L502.30 57.57L502.65 57.94L503.00 56.52L503.35 58.22L503.70 57.58L504.05 58.19L504.40 59.85L504.75 58.61L505.10 59.32L505.45 59.05L505.80 59.37L506.15 59.13L506.50 59.07L506.85 59.92L507.20 58.61L507.55 59.14L507.90 59.95L508.25 59.90L508.60 61.17L508.95 60.14L509.30 60.22L509.65 60.63L510.00 59.68L510.35 61.65L510.70 60.73L511.05 61.48L511.40 60.78L511.75 60.62L512.10 61.57L512.45 61.64L512.80 62.27L513.15 61.81L513.50 63.77L513.85 62.52L514.20 61.90L514.55 62.71L514.90 63.73L515.25 63.14L515.60 62.62L515.95 63.05L516.30 63.97L516.65 64.55L517.00 63.36L517.35 64.82L517.70 63.66L518.05 65.48L518.40 64.25L518.75 63.78L519.10 64.50L519.45 64.77L519.80 65.37L520.15 65.68L520.50 65.50L520.85 64.68L521.20 65.41L521.55 65.24L521.90 65.62L522.25 65.41L522.60 65.28L522.95 67.39L523.30 65.71L523.65 64.93L524.00 65.87L524.35 66.93L524.70 66.66L525.05 66.00L525.40 67.27L525.75 68.13L526.10 66.22L526.45 67.24L526.80 67.86L527.15 68.35L527.50 68.08L527.85 68.65L528.20 67.83L528.55 69.37L528.90 68.44L529.25 68.14L529.60 69.34L529.95 69.48L530.30 69.22L530.65 69.61L531.00 70.18L531.35 70.02L531.70 70.13L532.05 70.88L532.40 70.96L532.75 70.56L533.10 71.07L533.45 71.00L533.80 71.46L534.15 71.75L534.50 71.95L534.85 71.63L535.20 71.94L535.55 71.73L535.90 72.28L536.25 72.22L536.60 72.17L536.95 72.42L537.30 71.98L537.65 72.25L538.00 72.56L538.35 72.93L538.70 72.54L539.05 72.80L539.40 73.04L539.75 72.62L540.10 72.90L540.45 72.68L540.80 73.33L541.15 72.87L541.50 73.04L541.85 72.69L542.20 72.92L542.55 72.74L542.90 73.18L543.25 72.58L543.60 73.35L543.95 72.93L544.30 73.03L544.65 72.74L545.00 72.96L545.35 72.94L545.70 72.90L546.05 72.99L546.40 72.57L546.75 72.20L547.10 73.05L547.45 72.48L547.80 72.96L548.15 72.45L548.50 72.64L548.85 73.29L549.20 73.10L549.55 72.68L549.90 72.51L550.25 72.84L550.60 72.05L550.95 72.91L551.30 72.39L551.65 72.31L552.00 72.53L552.35 72.35L552.70 72.33L553.05 72.74L553.40 72.56L553.75 72.45L554.10 72.81L554.45 72.95L554.80 73.11L555.15 72.97L555.50 72.98L555.85 73.58L556.20 73.42L556.55 73.81L556.90 73.40L557.25 73.64L557.60 74.09L557.95 74.28L558.30 74.53L558.65 74.87L559.00 75.13L559.35 74.94L559.70 75.27L560.05 75.72L560.40 75.84L560.75 76.08L561.10 76.83L561.45 76.92L561.80 76.49L562.15 77.07L562.50 77.42L562.85 78.26L563.20 77.73L563.55 78.61L563.90 78.88L564.25 79.04L564.60 79.76L564.95 79.88L565.30 79.97L565.65 80.48L566.00 81.50L566.35 81.45L566.70 82.34L567.05 82.48L567.40 82.45L567.75 82.91L568.10 83.84L568.45 84.56L568.80 84.61L569.15 85.00L569.50 85.49L569.85 85.99L570.20 86.50L570.55 86.87L570.90 87.41L571.25 87.87L571.60 88.50L571.95 88.78L572.30 89.63L572.65 90.40L573.00 90.93L573.35 91.27L573.70 92.48L574.05 93.33L574.40 93.27L574.75 94.69L575.10 95.36L575.45 95.74L575.80 96.13L576.15 97.49L576.50 98.31L576.85 99.00L577.20 99.77L577.55 100.51L577.90 100.98L578.25 101.97L578.60 102.74L578.95 103.17L579.30 103.51L579.65 104.90L580.00 105.01L580.35 105.28L580.70 106.40L581.05 107.04L581.40 107.36L581.75 107.86L582.10 108.55L582.45 108.47L582.80 109.19L583.15 109.45L583.50 110.22L583.85 110.38L584.20 111.38L584.55 111.25L584.90 111.26L585.25 111.48L585.60 112.59L585.95 112.88L586.30 112.85L586.65 113.04L587.00 113.55L587.35 113.55L587.70 113.06L588.05 113.89L588.40 114.44L588.75 114.85L589.10 115.12L589.45 115.48L589.80 115.27L590.15 115.62L590.50 115.92L590.85 116.44L591.20 116.10L591.55 116.48L591.90 117.15L592.25 117.09L592.60 117.46L592.95 117.20L593.30 117.94L593.65 118.37L594.00 118.44L594.35 118.57L594.70 118.71L595.05 118.94L595.40 119.15L595.75 119.76L596.10 119.77L596.45 119.55L596.80 119.76L597.15 119.86L597.50 119.77L597.85 120.25L598.20 120.22L598.55 120.67L598.90 120.50L599.25 120.72L599.60 120.96L599.95 120.75L600.30 121.19L600.65 120.85L601.00 121.30L601.35 121.10L601.70 121.12L602.05 121.57L602.40 121.41L602.75 121.33L603.10 121.51L603.45 121.66L603.80 122.03L604.15 121.72L604.50 121.90L604.85 122.31L605.20 122.68L605.55 122.22L605.90 122.57L606.25 122.88L606.60 122.76L606.95 123.10L607.30 123.03L607.65 122.69L608.00 123.38L608.35 123.21L608.70 123.84L609.05 123.36L609.40 123.76L609.75 123.65L610.10 123.55L610.45 123.58L610.80 123.84L611.15 124.02L611.50 123.84L611.85 124.05L612.20 124.16L612.55 124.20L612.90 124.80L613.25 124.77L613.60 124.13L613.95 124.89L614.30 124.83L614.65 125.22L615.00 124.89L615.35 124.98L615.70 125.14L616.05 124.89L616.40 125.35L616.75 126.03L617.10 125.99L617.45 126.21L617.80 125.76L618.15 125.65L618.50 125.35L618.85 126.23L619.20 127.12L619.55 126.99L619.90 126.89L620.25 127.21L620.60 126.98L620.95 126.84L621.30 127.21L621.65 126.24L622.00 126.25L622.35 126.46L622.70 126.10L623.05 127.28L623.40 127.23L623.75 127.29L624.10 127.00L624.45 127.20L624.80 126.68L625.15 128.48L625.50 128.08L625.85 127.80L626.20 128.34L626.55 127.25L626.90 127.93L627.25 127.65L627.60 127.55L627.95 127.73L628.30 127.77L628.65 126.62L629.00 128.33L629.35 126.60L629.70 127.29L630.05 126.76L630.40 126.51L630.75 126.31L631.10 126.23L631.45 126.32L631.80 126.89L632.15 126.85L632.50 126.07L632.85 128.13L633.20 126.53L633.55 127.21L633.90 127.41L634.25 128.06L634.60 127.36L634.95 128.02L635.30 127.68L635.65 128.64L636.00 128.68L636.35 129.40L636.70 128.93L637.05 129.71L637.40 129.22L637.75 130.75L638.10 129.38L638.45 129.99L638.80 129.02L639.15 129.90L639.50 131.27L639.85 128.71L640.20 130.76L640.55 130.35L640.90 130.09L641.25 131.02L641.60 129.89L641.95 130.13L642.30 130.52L642.65 131.45L643.00 130.20L643.35 131.02L643.70 130.95L644.05 131.07L644.40 131.78L644.75 130.46L645.10 130.97L645.45 130.97L645.80 131.96L646.15 132.56L646.50 131.73L646.85 132.00L647.20 131.92L647.55 131.65L647.90 131.58L648.25 131.24L648.60 133.26L648.95 131.95L649.30 132.03L649.65 132.28L650.00 131.97L650.35 131.94L650.70 132.32L651.05 132.65L651.40 132.23L651.75 133.21L652.10 131.56L652.45 132.80L652.80 133.34L653.15 132.83L653.50 132.07L653.85 133.00L654.20 132.40L654.55 133.23L654.90 133.77L655.25 134.08L655.60 132.67L655.95 132.93L656.30 132.91L656.65 133.55L657.00 133.91L657.35 132.40L657.70 134.09L658.05 134.58L658.40 132.31L658.75 133.81L659.10 133.26L659.45 133.54L659.80 133.32L660.15 134.34L660.50 134.24L660.85 133.95L661.20 134.19L661.55 135.25L661.90 133.57L662.25 133.80L662.60 132.87L662.95 133.80L663.30 134.20L663.65 133.33L664.00 134.95L664.35 134.38L664.70 134.23L665.05 133.86L665.40 134.78L665.75 134.29L666.10 135.24L666.45 134.08L666.80 134.89L667.15 134.51L667.50 135.45L667.85 134.69L668.20 135.54L668.55 134.94L668.90 134.75L669.25 135.41L669.60 135.52L669.95 135.43L670.30 135.48L670.65 136.04L671.00 135.22L671.35 134.40L671.70 135.46L672.05 136.02L672.40 134.83L672.75 135.56L673.10 136.23L673.45 135.37L673.80 135.72L674.15 135.48L674.50 135.99L674.85 136.07L675.20 135.04L675.55 135.34L675.90 136.87L676.25 137.09L676.60 136.19L676.95 136.71L677.30 135.91L677.50 135.50" fill="none" stroke="#0000ff" stroke-width="1.5" stroke-linejoin="round" stroke-linecap="butt"/>
<path d="M394.50 78.22L394.85 77.52L395.20 78.60L395.55 76.95L395.90 76.82L396.25 77.26L396.60 75.71L396.95 75.58L397.30 75.67L397.65 75.12L398.00 74.40L398.35 74.61L398.70 74.25L399.05 74.46L399.40 73.04L399.75 73.25L400.10 73.91L400.45 73.99L400.80 72.03L401.15 72.84L401.50 71.77L401.85 71.56L402.20 71.29L402.55 71.25L402.90 71.69L403.25 71.28L403.60 70.68L403.95 70.19L404.30 70.10L404.65 69.77L405.00 69.94L405.35 68.96L405.70 69.01L406.05 68.70L406.40 68.48L406.75 68.39L407.10 68.13L407.45 68.48L407.80 67.57L408.15 68.20L408.50 67.08L408.85 66.81L409.20 66.91L409.55 66.86L409.90 66.64L410.25 66.98L410.60 66.73L410.95 66.24L411.30 65.67L411.65 65.63L412.00 66.24L412.35 65.50L412.70 64.60L413.05 64.78L413.40 64.71L413.75 65.46L414.10 64.73L414.45 65.81L414.80 64.92L415.15 64.58L415.50 64.23L415.85 64.86L416.20 64.19L416.55 63.83L416.90 64.47L417.25 64.14L417.60 64.67L417.95 63.99L418.30 62.55L418.65 64.33L419.00 62.95L419.35 64.61L419.70 64.71L420.05 63.54L420.40 63.12L420.75 62.96L421.10 64.06L421.45 63.47L421.80 63.23L422.15 63.36L422.50 64.48L422.85 63.56L423.20 63.71L423.55 63.68L423.90 63.75L424.25 63.73L424.60 62.80L424.95 63.00L425.30 62.68L425.65 62.66L426.00 63.55L426.35 62.68L426.70 62.85L427.05 62.50L427.40 62.51L427.75 63.15L428.10 62.50L428.45 62.44L428.80 62.88L429.15 62.85L429.50 62.95L429.85 62.60L430.20 61.60L430.55 62.75L430.90 62.65L431.25 62.87L431.60 61.90L431.95 63.55L432.30 61.63L432.65 62.58L433.00 62.20L433.35 61.90L433.70 62.51L434.05 61.93L434.40 60.86L434.75 61.41L435.10 62.19L435.45 63.05L435.80 61.15L436.15 61.85L436.50 62.55L436.85 62.09L437.20 61.57L437.55 61.01L437.90 60.80L438.25 61.29L438.60 61.44L438.95 60.47L439.30 60.72L439.65 61.68L440.00 61.30L440.35 61.09L440.70 61.23L441.05 61.00L441.40 61.83L441.75 62.16L442.10 62.34L442.45 61.62L442.80 61.61L443.15 61.93L443.50 62.03L443.85 61.86L444.20 61.70L444.55 60.75L444.90 60.23L445.25 61.43L445.60 60.92L445.95 60.90L446.30 60.45L446.65 60.22L447.00 61.54L447.35 61.04L447.70 60.24L448.05 60.94L448.40 60.87L448.75 60.96L449.10 61.79L449.45 60.63L449.80 59.98L450.15 60.62L450.50 60.26L450.85 60.84L451.20 60.65L451.55 60.71L451.90 60.24L452.25 60.71L452.60 60.24L452.95 60.75L453.30 60.33L453.65 59.91L454.00 60.71L454.35 60.10L454.70 61.17L455.05 60.66L455.40 60.66L455.75 60.47L456.10 60.38L456.45 59.21L456.80 61.01L457.15 59.98L457.50 60.86L457.85 60.06L458.20 60.30L458.55 60.25L458.90 59.84L459.25 60.26L459.60 60.58L459.95 60.13L460.30 59.70L460.65 60.04L461.00 60.45L461.35 60.89L461.70 60.74L462.05 60.46L462.40 59.81L462.75 60.76L463.10 60.32L463.45 60.18L463.80 60.76L464.15 60.61L464.50 60.55L464.85 59.72L465.20 59.99L465.55 59.45L465.90 60.40L466.25 60.31L466.60 60.77L466.95 60.41L467.30 60.12L467.65 61.36L468.00 59.79L468.35 59.64L468.70 60.00L469.05 60.57L469.40 60.14L469.75 60.09L470.10 59.75L470.45 61.05L470.80 60.01L471.15 59.78L471.50 60.26L471.85 59.92L472.20 60.21L472.55 61.00L472.90 60.11L473.25 60.31L473.60 60.15L473.95 60.25L474.30 60.75L474.65 60.61L475.00 60.18L475.35 59.89L475.70 60.29L476.05 60.78L476.40 60.36L476.75 60.31L477.10 59.47L477.45 60.88L477.80 59.64L478.15 59.75L478.50 60.20L478.85 60.41L479.20 60.42L479.55 60.03L479.90 60.26L480.25 60.11L480.60 59.52L480.95 60.30L481.30 60.09L481.65 60.65L482.00 60.37L482.35 60.93L482.70 60.81L483.05 60.91L483.40 61.07L483.75 60.82L484.10 60.40L484.45 61.17L484.80 60.03L485.15 60.49L485.50 60.94L485.85 60.38L486.20 60.90L486.55 60.15L486.90 60.30L487.25 60.87L487.60 60.97L487.95 61.24L488.30 60.63L488.65 60.85L489.00 61.04L489.35 60.99L489.70 60.14L490.05 60.54L490.40 61.58L490.75 60.27L491.10 61.24L491.45 60.74L491.80 61.49L492.15 60.64L492.50 61.09L492.85 60.08L493.20 61.11L493.55 61.70L493.90 60.45L494.25 61.83L494.60 60.91L494.95 61.27L495.30 59.94L495.65 61.90L496.00 60.95L496.35 61.15L496.70 60.81L497.05 60.98L497.40 62.08L497.75 61.29L498.10 62.02L498.45 61.52L498.80 61.81L499.15 61.42L499.50 61.92L499.85 63.03L500.20 62.09L500.55 62.05L500.90 61.60L501.25 62.37L501.60 62.58L501.95 61.08L502.30 61.28L502.65 63.06L503.00 62.25L503.35 62.14L503.70 62.39L504.05 62.70L504.40 62.59L504.75 62.11L505.10 63.29L505.45 62.31L505.80 61.90L506.15 62.10L506.50 62.35L506.85 62.26L507.20 62.40L507.55 62.69L507.90 60.93L508.25 62.22L508.60 63.13L508.95 62.97L509.30 62.39L509.65 62.46L510.00 63.39L510.35 62.74L510.70 62.64L511.05 63.88L511.40 62.81L511.75 63.38L512.10 63.06L512.45 63.16L512.80 62.71L513.15 62.82L513.50 63.91L513.85 62.76L514.20 63.52L514.55 62.83L514.90 63.36L515.25 63.52L515.60 62.78L515.95 64.21L516.30 63.61L516.65 64.36L517.00 63.34L517.35 64.32L517.70 65.09L518.05 64.09L518.40 63.71L518.75 64.33L519.10 64.23L519.45 64.11L519.80 64.22L520.15 64.06L520.50 64.62L520.85 64.29L521.20 64.12L521.55 65.03L521.90 64.62L522.25 66.10L522.60 64.74L522.95 64.59L523.30 64.76L523.65 65.31L524.00 64.87L524.35 64.68L524.70 66.23L525.05 64.90L525.40 66.37L525.75 65.83L526.10 65.40L526.45 66.83L526.80 66.13L527.15 65.95L527.50 66.61L527.85 67.33L528.20 67.26L528.55 67.51L528.90 68.07L529.25 67.66L529.60 67.92L529.95 67.89L530.30 67.64L530.65 68.33L531.00 69.15L531.35 68.21L531.70 69.47L532.05 69.33L532.40 69.19L532.75 69.73L533.10 70.47L533.45 70.01L533.80 70.64L534.15 70.97L534.50 70.67L534.85 71.31L535.20 71.52L535.55 71.52L535.90 72.04L536.25 72.05L536.60 72.27L536.95 72.39L537.30 72.98L537.65 73.08L538.00 73.31L538.35 73.46L538.70 73.69L539.05 74.08L539.40 74.66L539.75 74.63L540.10 75.37L540.45 75.45L540.80 75.69L541.15 75.71L541.50 76.63L541.85 76.25L542.20 76.95L542.55 77.49L542.90 77.43L543.25 77.65L543.60 78.11L543.95 78.63L544.30 79.06L544.65 79.26L545.00 79.29L545.35 79.73L545.70 80.26L546.05 80.33L546.40 80.93L546.75 81.86L547.10 81.67L547.45 82.65L547.80 82.87L548.15 83.77L548.50 84.74L548.85 85.46L549.20 86.81L549.55 88.22L549.90 89.24L550.25 90.37L550.60 91.16L550.95 92.33L551.30 93.39L551.65 94.46L552.00 95.53L552.35 95.99L552.70 97.44L553.05 97.94L553.40 98.83L553.75 99.52L554.10 100.62L554.45 101.44L554.80 102.09L555.15 103.11L555.50 104.02L555.85 104.73L556.20 105.77L556.55 106.19L556.90 107.35L557.25 107.90L557.60 108.78L557.95 109.11L558.30 110.27L558.65 111.01L559.00 112.00L559.35 112.39L559.70 113.71L560.05 114.04L560.40 115.33L560.75 115.98L561.10 116.49L561.45 117.83L561.80 117.89L562.15 118.84L562.50 119.64L562.85 120.41L563.20 121.01L563.55 121.74L563.90 122.22L564.25 122.68L564.60 123.00L564.95 123.61L565.30 124.29L565.65 124.26L566.00 124.82L566.35 124.66L566.70 125.19L567.05 125.25L567.40 126.05L567.75 125.63L568.10 126.09L568.45 126.37L568.80 126.37L569.15 126.36L569.50 126.31L569.85 126.03L570.20 125.91L570.55 125.50L570.90 125.25L571.25 124.64L571.60 124.75L571.95 124.65L572.30 123.86L572.65 123.34L573.00 123.10L573.35 122.77L573.70 122.22L574.05 121.06L574.40 120.74L574.75 119.72L575.10 119.05L575.45 117.65L575.80 117.37L576.15 116.18L576.50 115.37L576.85 114.29L577.20 113.07L577.55 112.31L577.90 111.04L578.25 109.97L578.60 109.27L578.95 108.23L579.30 107.26L579.65 106.78L580.00 105.69L580.35 105.04L580.70 104.44L581.05 103.73L581.40 103.04L581.75 102.38L582.10 101.29L582.45 100.35L582.80 100.08L583.15 99.27L583.50 98.17L583.85 97.62L584.20 96.65L584.55 95.66L584.90 95.42L585.25 94.53L585.60 93.72L585.95 93.27L586.30 92.45L586.65 91.27L587.00 90.42L587.35 89.51L587.70 89.15L588.05 88.34L588.40 87.77L588.75 87.01L589.10 86.19L589.45 85.58L589.80 84.69L590.15 84.60L590.50 83.61L590.85 83.20L591.20 82.31L591.55 81.81L591.90 81.27L592.25 80.43L592.60 79.64L592.95 79.57L593.30 78.34L593.65 77.75L594.00 76.88L594.35 76.00L594.70 75.70L595.05 74.81L595.40 74.12L595.75 72.97L596.10 72.90L596.45 72.46L596.80 71.83L597.15 71.24L597.50 71.03L597.85 70.38L598.20 69.99L598.55 69.63L598.90 69.17L599.25 68.25L599.60 68.12L599.95 67.42L600.30 66.67L600.65 66.63L601.00 65.71L601.35 65.45L601.70 64.52L602.05 64.31L602.40 63.91L602.75 63.51L603.10 62.92L603.45 62.38L603.80 61.93L604.15 61.97L604.50 61.13L604.85 60.77L605.20 60.73L605.55 59.59L605.90 59.11L606.25 58.92L606.60 58.66L606.95 58.13L607.30 57.99L607.65 57.63L608.00 57.00L608.35 57.01L608.70 56.36L609.05 56.46L609.40 56.05L609.75 56.14L610.10 55.57L610.45 55.08L610.80 54.91L611.15 54.61L611.50 54.18L611.85 53.80L612.20 54.09L612.55 53.97L612.90 53.37L613.25 53.22L613.60 52.99L613.95 53.14L614.30 53.03L614.65 52.37L615.00 52.33L615.35 52.12L615.70 52.15L616.05 52.15L616.40 52.08L616.75 51.53L617.10 51.15L617.45 51.44L617.80 51.29L618.15 50.80L618.50 50.79L618.85 50.67L619.20 50.67L619.55 50.20L619.90 50.17L620.25 49.87L620.60 49.24L620.95 49.72L621.30 49.30L621.65 49.53L622.00 48.42L622.35 48.47L622.70 48.77L623.05 47.71L623.40 48.28L623.75 48.00L624.10 47.87L624.45 47.82L624.80 46.71L625.15 47.70L625.50 47.59L625.85 47.96L626.20 48.04L626.55 47.38L626.90 47.55L627.25 45.78L627.60 47.14L627.95 47.32L628.30 47.10L628.65 46.69L629.00 46.30L629.35 46.21L629.70 46.33L630.05 46.45L630.40 46.45L630.75 46.05L631.10 45.39L631.45 46.87L631.80 45.45L632.15 44.48L632.50 46.47L632.85 46.20L633.20 45.72L633.55 46.06L633.90 45.73L634.25 45.04L634.60 45.46L634.95 44.73L635.30 44.98L635.65 44.82L636.00 45.29L636.35 45.70L636.70 44.80L637.05 45.32L637.40 43.99L637.75 44.49L638.10 45.26L638.45 45.44L638.80 45.41L639.15 45.44L639.50 44.06L639.85 44.59L640.20 43.53L640.55 44.72L640.90 44.89L641.25 44.57L641.60 44.26L641.95 44.91L642.30 44.95L642.65 44.73L643.00 44.34L643.35 44.65L643.70 44.66L644.05 44.74L644.40 44.92L644.75 44.59L645.10 43.88L645.45 44.46L645.80 44.79L646.15 44.38L646.50 44.71L646.85 44.26L647.20 45.27L647.55 44.81L647.90 44.67L648.25 44.98L648.60 44.99L648.95 44.65L649.30 45.11L649.65 44.94L650.00 44.72L650.35 44.62L650.70 44.06L651.05 44.71L651.40 44.71L651.75 44.21L652.10 45.31L652.45 44.62L652.80 44.09L653.15 44.42L653.50 44.61L653.85 44.62L654.20 44.25L654.55 44.66L654.90 43.92L655.25 44.43L655.60 44.87L655.95 44.32L656.30 44.98L656.65 45.06L657.00 44.37L657.35 43.47L657.70 45.11L658.05 45.35L658.40 43.89L658.75 44.79L659.10 44.85L659.45 43.89L659.80 44.43L660.15 45.33L660.50 44.82L660.85 44.73L661.20 45.31L661.55 44.45L661.90 43.86L662.25 45.45L662.60 44.40L662.95 44.81L663.30 45.41L663.65 44.99L664.00 44.96L664.35 44.59L664.70 45.21L665.05 46.05L665.40 44.69L665.75 44.45L666.10 45.19L666.45 44.71L666.80 45.17L667.15 45.15L667.50 45.42L667.85 45.31L668.20 45.41L668.55 45.92L668.90 44.84L669.25 45.39L669.60 45.57L669.95 44.84L670.30 45.02L670.65 45.37L671.00 45.32L671.35 46.19L671.70 45.74L672.05 47.19L672.40 45.58L672.75 45.67L673.10 47.00L673.45 45.64L673.80 47.07L674.15 44.46L674.50 45.74L674.85 46.83L675.20 46.97L675.55 46.46L675.90 45.96L676.25 46.27L676.60 46.78L676.95 46.60L677.30 46.98L677.50 46.17" fill="none" stroke="#bf00bf" stroke-width="1.5" stroke-linejoin="round" stroke-linecap="butt"/>
<path d="M394.50 83.81L394.85 82.23L395.20 82.25L395.55 82.19L395.90 81.19L396.25 81.39L396.60 81.11L396.95 79.78L397.30 81.18L397.65 80.66L398.00 79.66L398.35 79.67L398.70 79.82L399.05 79.11L399.40 78.86L399.75 77.88L400.10 78.82L400.45 78.30L400.80 78.13L401.15 76.79L401.50 78.44L401.85 77.29L402.20 76.72L402.55 77.93L402.90 76.45L403.25 75.38L403.60 75.79L403.95 74.46L404.30 76.27L404.65 75.21L405.00 74.85L405.35 75.79L405.70 74.01L406.05 75.18L406.40 73.48L406.75 74.19L407.10 73.74L407.45 75.22L407.80 75.28L408.15 73.91L408.50 74.50L408.85 73.78L409.20 74.12L409.55 73.22L409.90 72.55L410.25 72.39L410.60 73.61L410.95 74.63L411.30 73.35L411.65 72.78L412.00 74.15L412.35 73.05L412.70 72.89L413.05 72.89L413.40 72.59L413.75 72.40L414.10 71.66L414.45 72.75L414.80 72.32L415.15 73.03L415.50 72.02L415.85 71.03L416.20 72.05L416.55 73.06L416.90 71.74L417.25 71.37L417.60 71.12L417.95 71.13L418.30 71.50L418.65 70.89L419.00 72.41L419.35 71.26L419.70 71.40L420.05 72.10L420.40 72.03L420.75 70.89L421.10 71.10L421.45 71.22L421.80 70.54L422.15 69.45L422.50 70.78L422.85 70.78L423.20 70.35L423.55 69.39L423.90 69.68L424.25 69.29L424.60 69.30L424.95 70.10L425.30 70.07L425.65 69.38L426.00 69.11L426.35 68.99L426.70 68.37L427.05 68.12L427.40 67.55L427.75 67.70L428.10 68.88L428.45 67.84L428.80 66.91L429.15 66.64L429.50 66.22L429.85 66.79L430.20 66.65L430.55 65.39L430.90 66.40L431.25 65.62L431.60 66.67L431.95 65.76L432.30 66.55L432.65 65.11L433.00 65.08L433.35 65.30L433.70 65.62L434.05 65.20L434.40 64.00L434.75 64.74L435.10 64.53L435.45 64.15L435.80 63.92L436.15 65.26L436.50 63.88L436.85 63.53L437.20 64.34L437.55 63.95L437.90 63.75L438.25 64.18L438.60 63.93L438.95 63.77L439.30 64.05L439.65 63.57L440.00 62.95L440.35 63.03L440.70 62.87L441.05 63.24L441.40 62.41L441.75 61.89L442.10 62.99L442.45 62.09L442.80 61.67L443.15 63.03L443.50 62.34L443.85 63.04L444.20 62.40L444.55 62.03L444.90 61.95L445.25 62.39L445.60 62.54L445.95 62.21L446.30 62.54L446.65 61.79L447.00 62.73L447.35 61.65L447.70 62.62L448.05 63.16L448.40 63.40L448.75 63.79L449.10 61.84L449.45 63.24L449.80 63.52L450.15 63.40L450.50 62.29L450.85 63.16L451.20 64.11L451.55 62.20L451.90 63.50L452.25 64.01L452.60 63.06L452.95 63.97L453.30 63.12L453.65 63.42L454.00 63.55L454.35 64.28L454.70 64.22L455.05 64.95L455.40 63.89L455.75 64.42L456.10 65.11L456.45 64.87L456.80 63.71L457.15 64.87L457.50 64.12L457.85 64.57L458.20 64.45L458.55 64.91L458.90 64.16L459.25 62.88L459.60 63.08L459.95 64.25L460.30 63.57L460.65 64.33L461.00 63.75L461.35 63.08L461.70 64.11L462.05 62.91L462.40 62.10L462.75 64.51L463.10 62.07L463.45 63.54L463.80 63.67L464.15 63.15L464.50 62.02L464.85 63.62L465.20 62.13L465.55 62.17L465.90 62.75L466.25 63.43L466.60 63.12L466.95 63.42L467.30 62.65L467.65 62.81L468.00 62.22L468.35 62.70L468.70 63.24L469.05 62.69L469.40 63.15L469.75 62.51L470.10 62.49L470.45 62.87L470.80 62.72L471.15 63.19L471.50 62.93L471.85 63.86L472.20 62.68L472.55 62.68L472.90 62.18L473.25 62.82L473.60 63.21L473.95 62.36L474.30 62.77L474.65 63.23L475.00 62.72L475.35 62.49L475.70 63.38L476.05 62.86L476.40 63.04L476.75 63.50L477.10 63.49L477.45 62.59L477.80 62.48L478.15 62.97L478.50 62.72L478.85 61.66L479.20 63.57L479.55 62.81L479.90 63.24L480.25 62.10L480.60 63.57L480.95 62.45L481.30 62.74L481.65 61.96L482.00 62.70L482.35 62.66L482.70 62.69L483.05 63.06L483.40 62.84L483.75 63.39L484.10 62.52L484.45 62.20L484.80 62.79L485.15 63.18L485.50 63.55L485.85 63.31L486.20 61.78L486.55 63.10L486.90 63.78L487.25 62.98L487.60 62.67L487.95 63.22L488.30 62.78L488.65 63.52L489.00 63.18L489.35 64.09L489.70 63.61L490.05 62.94L490.40 63.80L490.75 64.06L491.10 63.22L491.45 63.37L491.80 62.30L492.15 64.28L492.50 63.45L492.85 62.58L493.20 62.86L493.55 63.85L493.90 64.51L494.25 64.07L494.60 64.48L494.95 63.61L495.30 63.55L495.65 64.96L496.00 64.80L496.35 64.57L496.70 65.43L497.05 64.17L497.40 64.56L497.75 65.51L498.10 66.06L498.45 65.04L498.80 66.11L499.15 64.80L499.50 65.42L499.85 65.17L500.20 64.38L500.55 65.53L500.90 65.98L501.25 65.38L501.60 65.47L501.95 66.39L502.30 64.84L502.65 64.73L503.00 65.28L503.35 64.99L503.70 66.55L504.05 65.97L504.40 65.30L504.75 65.48L505.10 67.61L505.45 65.56L505.80 65.51L506.15 66.19L506.50 66.43L506.85 66.22L507.20 65.58L507.55 65.48L507.90 66.58L508.25 66.23L508.60 65.32L508.95 67.05L509.30 66.86L509.65 66.30L510.00 66.33L510.35 66.67L510.70 66.17L511.05 65.82L511.40 66.87L511.75 65.86L512.10 67.01L512.45 65.96L512.80 66.82L513.15 66.86L513.50 68.06L513.85 66.42L514.20 66.27L514.55 66.79L514.90 66.57L515.25 66.96L515.60 67.64L515.95 67.93L516.30 68.55L516.65 67.20L517.00 69.32L517.35 69.02L517.70 67.81L518.05 66.66L518.40 68.09L518.75 68.29L519.10 66.98L519.45 68.51L519.80 68.46L520.15 68.23L520.50 69.19L520.85 69.54L521.20 68.76L521.55 69.31L521.90 68.90L522.25 68.94L522.60 69.58L522.95 69.97L523.30 69.44L523.65 68.58L524.00 70.38L524.35 69.20L524.70 70.37L525.05 71.49L525.40 70.55L525.75 70.01L526.10 70.01L526.45 71.63L526.80 71.12L527.15 71.56L527.50 71.90L527.85 71.54L528.20 71.56L528.55 71.40L528.90 70.53L529.25 71.45L529.60 72.29L529.95 72.40L530.30 72.81L530.65 72.74L531.00 73.02L531.35 73.44L531.70 72.92L532.05 73.33L532.40 73.00L532.75 74.13L533.10 73.96L533.45 74.29L533.80 74.82L534.15 74.83L534.50 74.65L534.85 75.10L535.20 74.63L535.55 75.37L535.90 75.48L536.25 75.22L536.60 76.19L536.95 75.89L537.30 76.44L537.65 76.40L538.00 76.96L538.35 77.26L538.70 76.98L539.05 77.05L539.40 77.62L539.75 78.10L540.10 78.06L540.45 78.26L540.80 78.78L541.15 78.27L541.50 79.04L541.85 79.14L542.20 79.83L542.55 79.86L542.90 80.07L543.25 80.56L543.60 80.61L543.95 81.29L544.30 81.47L544.65 81.89L545.00 82.16L545.35 82.91L545.70 83.03L546.05 83.56L546.40 83.92L546.75 83.99L547.10 84.70L547.45 85.03L547.80 85.40L548.15 85.62L548.50 86.00L548.85 86.68L549.20 87.41L549.55 87.09L549.90 87.82L550.25 88.02L550.60 88.72L550.95 89.07L551.30 89.66L551.65 89.18L552.00 90.17L552.35 90.56L552.70 91.26L553.05 91.63L553.40 92.19L553.75 93.06L554.10 93.93L554.45 93.38L554.80 94.58L555.15 95.33L555.50 95.88L555.85 96.43L556.20 96.84L556.55 97.60L556.90 98.68L557.25 99.43L557.60 99.88L557.95 100.32L558.30 101.22L558.65 101.80L559.00 102.63L559.35 103.17L559.70 103.65L560.05 104.50L560.40 104.82L560.75 105.95L561.10 106.68L561.45 106.73L561.80 107.72L562.15 107.96L562.50 109.01L562.85 109.51L563.20 109.77L563.55 110.59L563.90 110.76L564.25 111.20L564.60 111.68L564.95 112.20L565.30 112.53L565.65 112.97L566.00 113.12L566.35 113.78L566.70 114.16L567.05 114.09L567.40 114.13L567.75 114.87L568.10 115.14L568.45 114.93L568.80 114.69L569.15 115.04L569.50 115.28L569.85 114.36L570.20 114.80L570.55 114.46L570.90 114.15L571.25 114.28L571.60 113.63L571.95 113.79L572.30 113.80L572.65 113.28L573.00 112.79L573.35 112.31L573.70 112.12L574.05 111.64L574.40 112.09L574.75 111.23L575.10 110.59L575.45 110.04L575.80 109.59L576.15 109.22L576.50 108.43L576.85 108.55L577.20 107.36L577.55 106.72L577.90 106.26L578.25 105.70L578.60 104.75L578.95 103.33L579.30 102.49L579.65 101.43L580.00 100.50L580.35 99.46L580.70 98.25L581.05 97.26L581.40 96.69L581.75 95.45L582.10 95.16L582.45 93.94L582.80 92.79L583.15 92.06L583.50 91.13L583.85 90.34L584.20 89.73L584.55 88.27L584.90 87.28L585.25 86.93L585.60 85.93L585.95 85.15L586.30 84.37L586.65 83.40L587.00 82.84L587.35 81.68L587.70 81.18L588.05 80.25L588.40 79.48L588.75 79.22L589.10 78.54L589.45 77.28L589.80 76.84L590.15 76.55L590.50 76.12L590.85 75.10L591.20 74.62L591.55 73.74L591.90 74.12L592.25 73.08L592.60 72.64L592.95 72.05L593.30 71.58L593.65 70.97L594.00 70.21L594.35 69.92L594.70 69.20L595.05 68.92L595.40 67.86L595.75 67.32L596.10 67.03L596.45 66.59L596.80 65.74L597.15 64.96L597.50 64.53L597.85 63.88L598.20 63.91L598.55 63.14L598.90 62.69L599.25 61.92L599.60 61.17L599.95 61.04L600.30 60.63L600.65 59.86L601.00 59.24L601.35 59.06L601.70 58.31L602.05 58.24L602.40 57.57L602.75 57.22L603.10 57.31L603.45 57.00L603.80 57.14L604.15 56.38L604.50 56.23L604.85 55.73L605.20 55.35L605.55 55.15L605.90 55.47L606.25 54.86L606.60 55.19L606.95 55.05L607.30 54.43L607.65 54.68L608.00 54.13L608.35 54.15L608.70 53.63L609.05 53.72L609.40 53.08L609.75 53.27L610.10 52.84L610.45 52.75L610.80 52.77L611.15 52.50L611.50 52.29L611.85 52.33L612.20 52.20L612.55 51.52L612.90 51.85L613.25 51.74L613.60 51.24L613.95 51.40L614.30 50.79L614.65 51.45L615.00 50.83L615.35 50.75L615.70 51.03L616.05 50.47L616.40 50.60L616.75 49.90L617.10 49.94L617.45 49.51L617.80 49.83L618.15 50.20L618.50 49.77L618.85 49.93L619.20 49.01L619.55 48.95L619.90 49.02L620.25 49.39L620.60 49.19L620.95 48.91L621.30 49.12L621.65 48.64L622.00 48.60L622.35 49.19L622.70 48.10L623.05 48.41L623.40 49.11L623.75 48.18L624.10 48.44L624.45 47.58L624.80 49.01L625.15 46.41L625.50 46.99L625.85 46.95L626.20 48.47L626.55 47.63L626.90 47.18L627.25 46.49L627.60 47.40L627.95 47.17L628.30 46.61L628.65 46.06L629.00 46.21L629.35 46.93L629.70 46.92L630.05 46.70L630.40 46.50L630.75 45.46L631.10 46.48L631.45 45.76L631.80 46.34L632.15 46.53L632.50 45.78L632.85 45.51L633.20 46.65L633.55 46.21L633.90 45.55L634.25 44.08L634.60 45.79L634.95 46.14L635.30 46.38L635.65 45.25L636.00 45.21L636.35 45.28L636.70 46.00L637.05 44.74L637.40 45.32L637.75 44.78L638.10 45.44L638.45 44.30L638.80 45.40L639.15 44.83L639.50 44.94L639.85 45.34L640.20 45.66L640.55 43.91L640.90 45.48L641.25 45.17L641.60 44.62L641.95 45.59L642.30 44.83L642.65 45.45L643.00 44.29L643.35 44.09L643.70 45.32L644.05 45.85L644.40 44.91L644.75 45.05L645.10 44.21L645.45 43.68L645.80 44.33L646.15 45.35L646.50 43.32L646.85 44.12L647.20 43.26L647.55 44.46L647.90 44.91L648.25 43.62L648.60 44.11L648.95 45.14L649.30 44.28L649.65 43.59L650.00 43.53L650.35 43.11L650.70 44.77L651.05 43.86L651.40 44.93L651.75 44.82L652.10 43.90L652.45 43.98L652.80 44.77L653.15 44.40L653.50 44.47L653.85 43.33L654.20 44.86L654.55 43.80L654.90 42.97L655.25 43.97L655.60 44.60L655.95 45.62L656.30 44.15L656.65 43.58L657.00 45.67L657.35 44.50L657.70 44.26L658.05 43.78L658.40 43.84L658.75 45.34L659.10 44.30L659.45 44.16L659.80 44.19L660.15 45.45L660.50 44.17L660.85 44.92L661.20 44.72L661.55 44.73L661.90 44.08L662.25 45.03L662.60 45.63L662.95 44.66L663.30 44.17L663.65 43.98L664.00 44.91L664.35 44.66L664.70 44.80L665.05 44.90L665.40 44.05L665.75 45.44L666.10 45.15L666.45 45.00L666.80 45.22L667.15 45.67L667.50 45.18L667.85 44.68L668.20 45.92L668.55 44.99L668.90 44.85L669.25 44.39L669.60 45.36L669.95 44.77L670.30 45.12L670.65 45.74L671.00 45.52L671.35 46.15L671.70 45.76L672.05 45.38L672.40 45.46L672.75 45.39L673.10 46.12L673.45 45.79L673.80 45.57L674.15 46.36L674.50 45.95L674.85 45.65L675.20 45.07L675.55 46.28L675.90 46.20L676.25 46.13L676.60 45.88L676.95 45.68L677.30 46.09L677.50 46.39" fill="none" stroke="#ff0000" stroke-width="1.5" stroke-linejoin="round" stroke-linecap="butt"/>
<path d="M394.50 172.28L394.85 173.02L395.20 172.68L395.55 171.91L395.90 170.81L396.25 173.20L396.60 173.36L396.95 171.53L397.30 173.75L397.65 172.31L398.00 174.47L398.35 173.06L398.70 172.42L399.05 173.53L399.40 172.76L399.75 172.78L400.10 172.76L400.45 172.61L400.80 173.17L401.15 173.31L401.50 173.00L401.85 174.03L402.20 171.82L402.55 172.46L402.90 173.37L403.25 171.98L403.60 173.91L403.95 173.33L404.30 172.71L404.65 173.23L405.00 172.45L405.35 171.84L405.70 173.49L406.05 173.57L406.40 173.00L406.75 172.92L407.10 171.46L407.45 172.39L407.80 172.66L408.15 173.17L408.50 174.00L408.85 172.69L409.20 172.53L409.55 173.78L409.90 173.05L410.25 172.21L410.60 174.06L410.95 172.64L411.30 172.88L411.65 172.59L412.00 173.61L412.35 174.15L412.70 173.18L413.05 173.76L413.40 173.20L413.75 175.21L414.10 174.68L414.45 173.26L414.80 174.09L415.15 174.43L415.50 174.12L415.85 173.35L416.20 173.83L416.55 174.51L416.90 174.38L417.25 173.54L417.60 174.52L417.95 173.58L418.30 172.87L418.65 174.56L419.00 175.18L419.35 174.91L419.70 175.71L420.05 175.99L420.40 175.10L420.75 174.49L421.10 174.99L421.45 174.10L421.80 175.19L422.15 175.25L422.50 175.54L422.85 176.28L423.20 174.14L423.55 176.26L423.90 175.47L424.25 176.52L424.60 176.20L424.95 175.47L425.30 176.92L425.65 175.90L426.00 176.90L426.35 176.23L426.70 176.42L427.05 176.94L427.40 178.30L427.75 177.56L428.10 177.16L428.45 178.44L428.80 177.40L429.15 177.28L429.50 176.91L429.85 177.81L430.20 177.87L430.55 177.41L430.90 176.65L431.25 177.99L431.60 178.27L431.95 178.01L432.30 177.71L432.65 177.73L433.00 178.23L433.35 179.62L433.70 178.86L434.05 177.70L434.40 179.38L434.75 178.70L435.10 180.73L435.45 178.96L435.80 179.22L436.15 179.48L436.50 179.63L436.85 179.54L437.20 179.62L437.55 179.51L437.90 179.36L438.25 179.56L438.60 179.08L438.95 179.62L439.30 179.60L439.65 179.85L440.00 179.92L440.35 180.22L440.70 180.72L441.05 180.26L441.40 180.63L441.75 180.83L442.10 180.51L442.45 180.71L442.80 181.14L443.15 179.78L443.50 181.51L443.85 180.80L444.20 178.63L444.55 181.67L444.90 180.54L445.25 182.09L445.60 180.86L445.95 181.49L446.30 182.19L446.65 181.26L447.00 181.21L447.35 181.91L447.70 183.05L448.05 182.95L448.40 183.25L448.75 182.64L449.10 182.81L449.45 183.31L449.80 183.06L450.15 182.19L450.50 183.40L450.85 182.61L451.20 182.48L451.55 183.26L451.90 183.21L452.25 183.98L452.60 183.66L452.95 183.28L453.30 183.64L453.65 183.39L454.00 183.67L454.35 184.89L454.70 184.40L455.05 183.95L455.40 184.10L455.75 184.02L456.10 184.42L456.45 183.62L456.80 185.20L457.15 184.70L457.50 185.49L457.85 185.80L458.20 185.46L458.55 184.65L458.90 184.62L459.25 186.17L459.60 186.30L459.95 184.87L460.30 185.29L460.65 186.84L461.00 186.25L461.35 187.73L461.70 186.79L462.05 187.20L462.40 186.61L462.75 186.47L463.10 185.88L463.45 185.12L463.80 187.90L464.15 187.79L464.50 186.99L464.85 188.19L465.20 186.54L465.55 188.78L465.90 188.12L466.25 189.07L466.60 186.83L466.95 189.12L467.30 188.89L467.65 188.59L468.00 187.87L468.35 188.84L468.70 188.90L469.05 188.42L469.40 188.01L469.75 188.36L470.10 188.87L470.45 190.17L470.80 190.35L471.15 190.85L471.50 190.16L471.85 188.95L472.20 189.60L472.55 189.47L472.90 190.26L473.25 191.56L473.60 190.64L473.95 190.63L474.30 191.47L474.65 191.78L475.00 192.12L475.35 190.96L475.70 191.17L476.05 191.64L476.40 192.66L476.75 192.45L477.10 191.82L477.45 194.00L477.80 192.48L478.15 192.96L478.50 193.17L478.85 192.86L479.20 193.60L479.55 193.87L479.90 194.22L480.25 194.46L480.60 194.08L480.95 194.01L481.30 195.64L481.65 194.93L482.00 196.06L482.35 195.81L482.70 197.58L483.05 195.84L483.40 194.95L483.75 196.08L484.10 197.34L484.45 198.01L484.80 198.09L485.15 197.51L485.50 198.34L485.85 196.70L486.20 197.17L486.55 197.08L486.90 198.32L487.25 198.98L487.60 198.25L487.95 198.68L488.30 198.22L488.65 198.44L489.00 198.94L489.35 200.09L489.70 199.49L490.05 199.68L490.40 200.22L490.75 200.07L491.10 199.27L491.45 201.15L491.80 199.99L492.15 200.25L492.50 200.34L492.85 200.98L493.20 200.56L493.55 201.13L493.90 202.22L494.25 200.63L494.60 200.03L494.95 202.38L495.30 201.83L495.65 202.27L496.00 202.44L496.35 201.85L496.70 202.39L497.05 201.21L497.40 202.51L497.75 202.78L498.10 202.06L498.45 202.55L498.80 203.11L499.15 203.58L499.50 203.40L499.85 204.65L500.20 204.37L500.55 204.58L500.90 202.95L501.25 204.07L501.60 204.67L501.95 204.43L502.30 205.03L502.65 204.65L503.00 204.64L503.35 205.36L503.70 205.64L504.05 205.55L504.40 205.90L504.75 206.79L505.10 206.64L505.45 207.04L505.80 207.07L506.15 206.90L506.50 206.77L506.85 208.46L507.20 207.46L507.55 208.09L507.90 207.29L508.25 206.90L508.60 207.22L508.95 208.03L509.30 207.60L509.65 209.15L510.00 208.49L510.35 208.62L510.70 210.26L511.05 209.05L511.40 209.15L511.75 211.52L512.10 210.12L512.45 210.08L512.80 209.88L513.15 211.23L513.50 211.36L513.85 209.03L514.20 210.86L514.55 211.25L514.90 211.63L515.25 210.52L515.60 211.58L515.95 212.98L516.30 212.76L516.65 211.45L517.00 212.56L517.35 212.00L517.70 213.28L518.05 210.85L518.40 213.71L518.75 213.44L519.10 214.18L519.45 212.80L519.80 213.62L520.15 213.20L520.50 214.48L520.85 214.46L521.20 215.82L521.55 215.16L521.90 213.23L522.25 215.17L522.60 215.19L522.95 215.97L523.30 215.88L523.65 215.00L524.00 215.48L524.35 216.62L524.70 215.46L525.05 216.23L525.40 215.55L525.75 217.15L526.10 217.29L526.45 216.71L526.80 216.19L527.15 216.62L527.50 216.94L527.85 216.99L528.20 217.49L528.55 216.62L528.90 216.89L529.25 217.23L529.60 218.35L529.95 217.40L530.30 218.23L530.65 218.72L531.00 217.69L531.35 217.60L531.70 217.75L532.05 218.92L532.40 218.95L532.75 218.75L533.10 218.49L533.45 219.00L533.80 218.45L534.15 219.29L534.50 219.19L534.85 219.24L535.20 219.78L535.55 219.00L535.90 219.04L536.25 219.56L536.60 219.78L536.95 219.21L537.30 219.20L537.65 219.44L538.00 219.63L538.35 219.21L538.70 219.64L539.05 219.88L539.40 219.17L539.75 218.95L540.10 219.59L540.45 218.49L540.80 219.06L541.15 218.90L541.50 218.06L541.85 218.53L542.20 218.58L542.55 217.87L542.90 217.13L543.25 217.33L543.60 217.84L543.95 216.76L544.30 217.07L544.65 216.15L545.00 216.09L545.35 215.73L545.70 215.61L546.05 215.46L546.40 215.00L546.75 214.39L547.10 214.23L547.45 213.80L547.80 213.31L548.15 212.81L548.50 212.30L548.85 212.04L549.20 211.98L549.55 210.76L549.90 210.12L550.25 209.05L550.60 208.33L550.95 208.02L551.30 206.55L551.65 205.66L552.00 204.55L552.35 202.82L552.70 201.88L553.05 200.33L553.40 198.79L553.75 196.76L554.10 195.31L554.45 192.92L554.80 191.61L555.15 189.68L555.50 187.48L555.85 185.56L556.20 182.87L556.55 180.85L556.90 178.45L557.25 176.66L557.60 174.25L557.95 172.43L558.30 169.76L558.65 168.11L559.00 166.05L559.35 164.05L559.70 161.69L560.05 158.93L560.40 155.61L560.75 151.52L561.10 148.87L561.45 145.58L561.80 143.26L562.15 140.33L562.50 138.30L562.85 135.73L563.20 132.98L563.55 130.11L563.90 127.35L564.25 124.84L564.60 122.64L564.95 120.46L565.30 118.29L565.65 116.19L566.00 113.59L566.35 111.73L566.70 109.77L567.05 107.24L567.40 104.27L567.75 100.91L568.10 98.60L568.45 94.96L568.80 91.59L569.15 89.33L569.50 86.53L569.85 83.70L570.20 81.06L570.55 78.14L570.90 76.32L571.25 73.45L571.60 70.54L571.95 68.64L572.30 65.67L572.65 64.20L573.00 61.73L573.35 59.89L573.70 57.94L574.05 55.69L574.40 54.38L574.75 51.80L575.10 49.98L575.45 47.92L575.80 45.98L576.15 44.03L576.50 42.76L576.85 40.79L577.20 39.19L577.55 36.92L577.90 35.45L578.25 34.48L578.60 33.57L578.95 32.62L579.30 31.35L579.65 31.21L580.00 30.85L580.35 30.56L580.70 30.03L581.05 29.81L581.40 29.89L581.75 29.72L582.10 29.27L582.45 29.20L582.80 29.25L583.15 29.63L583.50 29.69L583.85 30.01L584.20 30.72L584.55 30.56L584.90 30.85L585.25 31.54L585.60 32.60L585.95 32.88L586.30 33.01L586.65 34.43L587.00 35.04L587.35 35.87L587.70 36.17L588.05 37.20L588.40 38.01L588.75 39.19L589.10 39.55L589.45 40.38L589.80 41.06L590.15 42.54L590.50 43.08L590.85 44.25L591.20 44.84L591.55 45.85L591.90 46.24L592.25 47.39L592.60 47.84L592.95 48.53L593.30 49.78L593.65 49.96L594.00 51.16L594.35 52.08L594.70 52.98L595.05 53.91L595.40 55.31L595.75 56.11L596.10 57.98L596.45 59.20L596.80 60.12L597.15 61.26L597.50 62.20L597.85 63.50L598.20 64.78L598.55 66.22L598.90 67.80L599.25 68.12L599.60 70.00L599.95 70.95L600.30 72.15L600.65 73.22L601.00 74.07L601.35 75.20L601.70 76.31L602.05 77.56L602.40 78.09L602.75 79.46L603.10 80.32L603.45 80.88L603.80 81.98L604.15 83.16L604.50 83.40L604.85 84.40L605.20 85.74L605.55 86.59L605.90 87.03L606.25 87.80L606.60 89.04L606.95 90.07L607.30 90.41L607.65 91.10L608.00 92.47L608.35 93.19L608.70 93.42L609.05 94.30L609.40 95.26L609.75 96.40L610.10 97.11L610.45 97.67L610.80 97.92L611.15 99.88L611.50 99.75L611.85 101.18L612.20 101.90L612.55 102.39L612.90 103.10L613.25 103.51L613.60 104.15L613.95 104.94L614.30 105.52L614.65 106.66L615.00 106.98L615.35 108.70L615.70 109.87L616.05 108.78L616.40 109.92L616.75 111.50L617.10 112.13L617.45 112.69L617.80 113.57L618.15 114.65L618.50 115.05L618.85 116.42L619.20 117.57L619.55 118.41L619.90 119.52L620.25 119.53L620.60 120.47L620.95 120.10L621.30 121.75L621.65 122.13L622.00 124.19L622.35 125.37L622.70 124.67L623.05 125.28L623.40 125.79L623.75 126.68L624.10 126.73L624.45 128.45L624.80 128.16L625.15 129.99L625.50 129.92L625.85 129.55L626.20 129.82L626.55 131.28L626.90 130.78L627.25 130.26L627.60 131.63L627.95 131.58L628.30 133.97L628.65 132.85L629.00 132.84L629.35 131.99L629.70 134.76L630.05 134.64L630.40 134.62L630.75 134.83L631.10 135.48L631.45 136.24L631.80 136.19L632.15 136.08L632.50 136.92L632.85 135.58L633.20 137.06L633.55 137.56L633.90 137.66L634.25 138.37L634.60 139.37L634.95 139.13L635.30 138.57L635.65 140.14L636.00 140.93L636.35 141.30L636.70 141.47L637.05 142.11L637.40 141.66L637.75 140.24L638.10 142.11L638.45 141.93L638.80 143.23L639.15 143.93L639.50 143.35L639.85 144.77L640.20 143.54L640.55 145.17L640.90 144.36L641.25 144.83L641.60 144.79L641.95 146.08L642.30 147.25L642.65 146.04L643.00 146.46L643.35 147.35L643.70 146.68L644.05 147.56L644.40 147.61L644.75 147.44L645.10 147.47L645.45 149.39L645.80 148.88L646.15 148.69L646.50 150.31L646.85 149.88L647.20 149.36L647.55 149.67L647.90 150.69L648.25 150.63L648.60 151.63L648.95 150.81L649.30 150.98L649.65 152.13L650.00 153.06L650.35 152.54L650.70 154.90L651.05 154.97L651.40 153.66L651.75 153.39L652.10 154.42L652.45 154.19L652.80 154.75L653.15 155.34L653.50 155.33L653.85 154.25L654.20 157.09L654.55 155.48L654.90 156.20L655.25 156.99L655.60 156.84L655.95 157.10L656.30 157.59L656.65 156.69L657.00 157.96L657.35 158.57L657.70 158.01L658.05 159.22L658.40 159.69L658.75 158.68L659.10 159.70L659.45 159.42L659.80 160.27L660.15 159.49L660.50 158.86L660.85 160.74L661.20 160.77L661.55 160.77L661.90 160.06L662.25 160.46L662.60 161.31L662.95 161.28L663.30 160.86L663.65 161.50L664.00 162.17L664.35 161.45L664.70 162.04L665.05 161.82L665.40 163.11L665.75 162.60L666.10 162.83L666.45 163.69L666.80 163.50L667.15 163.06L667.50 164.31L667.85 162.75L668.20 163.01L668.55 164.25L668.90 164.00L669.25 165.05L669.60 164.53L669.95 164.59L670.30 165.31L670.65 164.36L671.00 163.86L671.35 165.42L671.70 164.56L672.05 165.45L672.40 164.68L672.75 165.24L673.10 165.15L673.45 164.99L673.80 165.20L674.15 166.02L674.50 165.72L674.85 166.26L675.20 165.34L675.55 165.49L675.90 165.22L676.25 165.46L676.60 166.08L676.95 166.10L677.30 166.52L677.50 166.94" fill="none" stroke="#008000" stroke-width="1.5" stroke-linejoin="round" stroke-linecap="butt"/>
<path d="M394.50 55.00L395.50 53.00L396.50 51.07L397.50 49.20L398.50 47.40L399.50 45.62L400.50 43.90L401.50 42.27L402.50 40.80L403.50 39.46L404.50 38.20L405.50 37.04L406.50 35.98L407.50 35.03L408.50 34.14L409.50 33.30L410.50 32.53L411.50 31.84L412.50 31.25L413.50 30.73L414.50 30.24L415.50 29.80L416.50 29.42L417.50 29.12L418.50 28.89L419.50 28.68L420.50 28.49L421.50 28.31L422.50 28.17L423.50 28.06L424.50 28.01L425.50 28.01L426.50 28.06L427.50 28.15L428.50 28.27L429.50 28.41L430.50 28.57L431.50 28.72L432.50 28.88L433.50 29.04L434.50 29.23L435.50 29.43L436.50 29.65L437.50 29.88L438.50 30.12L439.50 30.37L440.50 30.63L441.50 30.92L442.50 31.23L443.50 31.56L444.50 31.90L445.50 32.26L446.50 32.63L447.50 33.00L448.50 33.39L449.50 33.79L450.50 34.22L451.50 34.65L452.50 35.10L453.50 35.56L454.50 36.02L455.50 36.48L456.50 36.97L457.50 37.46L458.50 37.96L459.50 38.47L460.50 38.99L461.50 39.50L462.50 40.00L463.50 40.50L464.50 41.00L465.50 41.50L466.50 42.00L467.50 42.50L468.50 43.00L469.50 43.50L470.50 44.00L471.50 44.50L472.50 45.00L473.50 45.50L474.50 46.00L475.50 46.50L476.50 47.00L477.50 47.50L478.50 48.00L479.50 48.50L480.50 49.00L481.50 49.50L482.50 50.00L483.50 50.50L484.50 51.00L485.50 51.50L486.50 52.00L487.50 52.50L488.50 53.00L489.50 53.50L490.50 54.00L491.50 54.50L492.50 55.00L493.50 55.51L494.50 56.02L495.50 56.54L496.50 57.05L497.50 57.56L498.50 58.05L499.50 58.52L500.50 58.97L501.50 59.41L502.50 59.83L503.50 60.24L504.50 60.64L505.50 61.03L506.50 61.42L507.50 61.80L508.50 62.17L509.50 62.53L510.50 62.88L511.50 63.23L512.50 63.58L513.50 63.93L514.50 64.31L515.50 64.70L516.50 65.11L517.50 65.53L518.50 65.96L519.50 66.40L520.50 66.84L521.50 67.28L522.50 67.72L523.50 68.16L524.50 68.60L525.50 69.04L526.50 69.49L527.50 69.93L528.50 70.36L529.50 70.79L530.50 71.21L531.50 71.63L532.50 72.04L533.50 72.45L534.50 72.85L535.50 73.25L536.50 73.63L537.50 74.00L538.50 74.36L539.50 74.71L540.50 75.04L541.50 75.37L542.50 75.69L543.50 76.00L544.50 76.29L545.50 76.55L546.50 76.80L547.50 77.06L548.50 77.33L549.50 77.63L550.50 77.98L551.50 78.36L552.50 78.78L553.50 79.23L554.50 79.72L555.50 80.23L556.50 80.78L557.50 81.35L558.50 81.96L559.50 82.62L560.50 83.34L561.50 84.13L562.50 85.00L563.50 86.03L564.50 87.24L565.50 88.59L566.50 90.03L567.50 91.50L568.50 93.04L569.50 94.70L570.50 96.43L571.50 98.21L572.50 100.00L573.50 101.86L574.50 103.78L575.50 105.64L576.50 107.33L577.50 108.97L578.50 110.52L579.50 111.90L580.50 113.05L581.50 114.08L582.50 115.01L583.50 115.86L584.50 116.63L585.50 117.36L586.50 118.04L587.50 118.68L588.50 119.26L589.50 119.77L590.50 120.21L591.50 120.61L592.50 120.98L593.50 121.32L594.50 121.63L595.50 121.92L596.50 122.18L597.50 122.41L598.50 122.62L599.50 122.81L600.50 122.99L601.50 123.16L602.50 123.32L603.50 123.48L604.50 123.66L605.50 123.85L606.50 124.04L607.50 124.25L608.50 124.46L609.50 124.66L610.50 124.86L611.50 125.05L612.50 125.22L613.50 125.38L614.50 125.52L615.50 125.65L616.50 125.77L617.50 125.89L618.50 126.01L619.50 126.12L620.50 126.24L621.50 126.37L622.50 126.50L623.50 126.64L624.50 126.77L625.50 126.91L626.50 127.05L627.50 127.19L628.50 127.34L629.50 127.49L630.50 127.65L631.50 127.82L632.50 128.00L633.50 128.19L634.50 128.41L635.50 128.64L636.50 128.88L637.50 129.14L638.50 129.39L639.50 129.66L640.50 129.92L641.50 130.18L642.50 130.43L643.50 130.67L644.50 130.89L645.50 131.10L646.50 131.31L647.50 131.51L648.50 131.71L649.50 131.90L650.50 132.09L651.50 132.28L652.50 132.46L653.50 132.65L654.50 132.82L655.50 133.00L656.50 133.17L657.50 133.34L658.50 133.51L659.50 133.67L660.50 133.83L661.50 133.99L662.50 134.15L663.50 134.30L664.50 134.46L665.50 134.61L666.50 134.76L667.50 134.91L668.50 135.05L669.50 135.19L670.50 135.34L671.50 135.47L672.50 135.61L673.50 135.74L674.50 135.87L675.50 136.00L676.50 136.13L677.50 136.25" fill="none" stroke="#0000ff" stroke-width="1.5" stroke-linejoin="round" stroke-linecap="butt" stroke-dasharray="5.55 2.4"/>
<path d="M394.50 78.00L395.50 77.12L396.50 76.25L397.50 75.41L398.50 74.59L399.50 73.80L400.50 73.02L401.50 72.26L402.50 71.50L403.50 70.73L404.50 69.94L405.50 69.16L406.50 68.43L407.50 67.78L408.50 67.23L409.50 66.71L410.50 66.21L411.50 65.75L412.50 65.33L413.50 64.97L414.50 64.67L415.50 64.44L416.50 64.26L417.50 64.09L418.50 63.95L419.50 63.82L420.50 63.69L421.50 63.57L422.50 63.43L423.50 63.30L424.50 63.17L425.50 63.04L426.50 62.91L427.50 62.79L428.50 62.67L429.50 62.56L430.50 62.44L431.50 62.34L432.50 62.23L433.50 62.12L434.50 62.02L435.50 61.92L436.50 61.82L437.50 61.73L438.50 61.64L439.50 61.54L440.50 61.45L441.50 61.36L442.50 61.26L443.50 61.17L444.50 61.07L445.50 60.97L446.50 60.88L447.50 60.79L448.50 60.71L449.50 60.64L450.50 60.58L451.50 60.53L452.50 60.50L453.50 60.47L454.50 60.45L455.50 60.42L456.50 60.40L457.50 60.38L458.50 60.36L459.50 60.35L460.50 60.33L461.50 60.32L462.50 60.31L463.50 60.30L464.50 60.30L465.50 60.30L466.50 60.30L467.50 60.30L468.50 60.31L469.50 60.31L470.50 60.32L471.50 60.32L472.50 60.33L473.50 60.34L474.50 60.35L475.50 60.36L476.50 60.37L477.50 60.38L478.50 60.39L479.50 60.41L480.50 60.42L481.50 60.44L482.50 60.45L483.50 60.47L484.50 60.49L485.50 60.51L486.50 60.55L487.50 60.61L488.50 60.69L489.50 60.77L490.50 60.86L491.50 60.96L492.50 61.06L493.50 61.16L494.50 61.26L495.50 61.34L496.50 61.43L497.50 61.52L498.50 61.61L499.50 61.70L500.50 61.80L501.50 61.89L502.50 61.99L503.50 62.09L504.50 62.20L505.50 62.30L506.50 62.41L507.50 62.53L508.50 62.64L509.50 62.76L510.50 62.88L511.50 63.01L512.50 63.14L513.50 63.28L514.50 63.42L515.50 63.58L516.50 63.73L517.50 63.89L518.50 64.05L519.50 64.23L520.50 64.41L521.50 64.62L522.50 64.84L523.50 65.08L524.50 65.35L525.50 65.67L526.50 66.09L527.50 66.60L528.50 67.15L529.50 67.72L530.50 68.28L531.50 68.85L532.50 69.44L533.50 70.05L534.50 70.68L535.50 71.32L536.50 71.98L537.50 72.66L538.50 73.37L539.50 74.11L540.50 74.90L541.50 75.72L542.50 76.58L543.50 77.49L544.50 78.48L545.50 79.55L546.50 80.78L547.50 82.11L548.50 83.48L549.50 84.84L550.50 86.14L551.50 87.40L552.50 88.67L553.50 90.00L554.50 91.38L555.50 92.80L556.50 94.34L557.50 96.06L558.50 98.01L559.50 100.10L560.50 102.21L561.50 104.26L562.50 106.40L563.50 108.53L564.50 110.44L565.50 112.00L566.50 113.30L567.50 113.98L568.50 114.42L569.50 114.60L570.50 114.08L571.50 112.87L572.50 111.50L573.50 110.13L574.50 108.57L575.50 106.82L576.50 104.89L577.50 102.80L578.50 100.30L579.50 97.39L580.50 94.41L581.50 91.64L582.50 88.91L583.50 86.25L584.50 83.70L585.50 81.34L586.50 79.13L587.50 77.02L588.50 74.99L589.50 73.03L590.50 71.18L591.50 69.37L592.50 67.50L593.50 65.46L594.50 63.33L595.50 61.36L596.50 59.72L597.50 58.26L598.50 56.93L599.50 55.73L600.50 54.64L601.50 53.64L602.50 52.72L603.50 51.85L604.50 51.02L605.50 50.21L606.50 49.41L607.50 48.64L608.50 47.92L609.50 47.26L610.50 46.66L611.50 46.10L612.50 45.57L613.50 45.08L614.50 44.62L615.50 44.20L616.50 43.81L617.50 43.46L618.50 43.14L619.50 42.83L620.50 42.54L621.50 42.25L622.50 41.95L623.50 41.64L624.50 41.33L625.50 41.02L626.50 40.73L627.50 40.45L628.50 40.20L629.50 39.97L630.50 39.76L631.50 39.56L632.50 39.37L633.50 39.19L634.50 39.03L635.50 38.88L636.50 38.73L637.50 38.58L638.50 38.44L639.50 38.32L640.50 38.20L641.50 38.10L642.50 38.03L643.50 37.97L644.50 37.93L645.50 37.88L646.50 37.84L647.50 37.80L648.50 37.77L649.50 37.74L650.50 37.72L651.50 37.70L652.50 37.70L653.50 37.70L654.50 37.70L655.50 37.70L656.50 37.70L657.50 37.70L658.50 37.70L659.50 37.70L660.50 37.70L661.50 37.73L662.50 37.78L663.50 37.84L664.50 37.92L665.50 38.01L666.50 38.10L667.50 38.20L668.50 38.31L669.50 38.44L670.50 38.60L671.50 38.78L672.50 38.98L673.50 39.19L674.50 39.42L675.50 39.67L676.50 39.93L677.50 40.20" fill="none" stroke="#ff0000" stroke-width="1.5" stroke-linejoin="round" stroke-linecap="butt" stroke-dasharray="5.55 2.4"/>
<path d="M394.50 172.50L395.50 172.51L396.50 172.53L397.50 172.55L398.50 172.57L399.50 172.60L400.50 172.63L401.50 172.66L402.50 172.70L403.50 172.74L404.50 172.78L405.50 172.82L406.50 172.87L407.50 172.92L408.50 172.97L409.50 173.03L410.50 173.10L411.50 173.18L412.50 173.26L413.50 173.35L414.50 173.45L415.50 173.56L416.50 173.70L417.50 173.88L418.50 174.09L419.50 174.32L420.50 174.58L421.50 174.85L422.50 175.12L423.50 175.41L424.50 175.69L425.50 175.97L426.50 176.24L427.50 176.50L428.50 176.75L429.50 177.00L430.50 177.26L431.50 177.51L432.50 177.77L433.50 178.03L434.50 178.29L435.50 178.55L436.50 178.82L437.50 179.08L438.50 179.34L439.50 179.60L440.50 179.86L441.50 180.12L442.50 180.38L443.50 180.64L444.50 180.90L445.50 181.16L446.50 181.42L447.50 181.68L448.50 181.94L449.50 182.20L450.50 182.47L451.50 182.74L452.50 183.01L453.50 183.28L454.50 183.56L455.50 183.84L456.50 184.12L457.50 184.41L458.50 184.70L459.50 184.98L460.50 185.28L461.50 185.57L462.50 185.87L463.50 186.17L464.50 186.47L465.50 186.78L466.50 187.09L467.50 187.40L468.50 187.72L469.50 188.04L470.50 188.36L471.50 188.69L472.50 189.03L473.50 189.37L474.50 189.71L475.50 190.06L476.50 190.42L477.50 190.78L478.50 191.14L479.50 191.51L480.50 191.89L481.50 192.27L482.50 192.67L483.50 193.06L484.50 193.47L485.50 193.88L486.50 194.29L487.50 194.70L488.50 195.12L489.50 195.53L490.50 195.94L491.50 196.34L492.50 196.74L493.50 197.14L494.50 197.54L495.50 197.94L496.50 198.35L497.50 198.77L498.50 199.21L499.50 199.67L500.50 200.14L501.50 200.64L502.50 201.17L503.50 201.71L504.50 202.27L505.50 202.84L506.50 203.41L507.50 203.99L508.50 204.56L509.50 205.12L510.50 205.68L511.50 206.23L512.50 206.78L513.50 207.33L514.50 207.88L515.50 208.44L516.50 208.99L517.50 209.54L518.50 210.08L519.50 210.63L520.50 211.17L521.50 211.73L522.50 212.30L523.50 212.86L524.50 213.42L525.50 213.95L526.50 214.44L527.50 214.90L528.50 215.36L529.50 215.83L530.50 216.29L531.50 216.69L532.50 217.00L533.50 217.17L534.50 217.21L535.50 217.24L536.50 217.27L537.50 217.29L538.50 217.30L539.50 217.27L540.50 217.07L541.50 216.71L542.50 216.25L543.50 215.75L544.50 215.24L545.50 214.61L546.50 213.86L547.50 212.99L548.50 212.00L549.50 210.85L550.50 209.43L551.50 207.69L552.50 205.50L553.50 202.11L554.50 197.87L555.50 193.22L556.50 188.00L557.50 182.43L558.50 176.96L559.50 171.99L560.50 166.98L561.50 161.85L562.50 155.81L563.50 148.56L564.50 139.97L565.50 130.83L566.50 123.14L567.50 115.77L568.50 108.32L569.50 100.38L570.50 92.00L571.50 83.09L572.50 74.28L573.50 65.85L574.50 58.41L575.50 51.82L576.50 46.46L577.50 41.94L578.50 38.36L579.50 35.50L580.50 33.30L581.50 31.50L582.50 30.50L583.50 30.34L584.50 30.35L585.50 31.80L586.50 33.92L587.50 36.44L588.50 39.48L589.50 43.19L590.50 46.66L591.50 49.83L592.50 52.92L593.50 56.09L594.50 59.28L595.50 62.52L596.50 65.82L597.50 69.17L598.50 72.58L599.50 76.07L600.50 79.66L601.50 82.92L602.50 85.82L603.50 88.35L604.50 90.76L605.50 93.19L606.50 95.59L607.50 97.98L608.50 100.38L609.50 102.75L610.50 105.00L611.50 107.07L612.50 109.04L613.50 110.99L614.50 113.02L615.50 115.15L616.50 117.32L617.50 119.46L618.50 121.53L619.50 123.59L620.50 125.54L621.50 127.25L622.50 128.80L623.50 130.27L624.50 131.73L625.50 133.19L626.50 134.61L627.50 135.97L628.50 137.28L629.50 138.55L630.50 139.77L631.50 140.94L632.50 142.05L633.50 143.10L634.50 144.12L635.50 145.08L636.50 146.00L637.50 146.86L638.50 147.67L639.50 148.44L640.50 149.21L641.50 150.00L642.50 150.81L643.50 151.64L644.50 152.46L645.50 153.25L646.50 154.00L647.50 154.72L648.50 155.43L649.50 156.12L650.50 156.78L651.50 157.40L652.50 157.97L653.50 158.48L654.50 158.97L655.50 159.43L656.50 159.86L657.50 160.28L658.50 160.68L659.50 161.06L660.50 161.44L661.50 161.80L662.50 162.16L663.50 162.51L664.50 162.84L665.50 163.17L666.50 163.48L667.50 163.79L668.50 164.08L669.50 164.36L670.50 164.63L671.50 164.89L672.50 165.15L673.50 165.39L674.50 165.62L675.50 165.84L676.50 166.05L677.50 166.25" fill="none" stroke="#008000" stroke-width="1.5" stroke-linejoin="round" stroke-linecap="butt" stroke-dasharray="5.55 2.4"/>
</g>
<path d="M54.50 6.20H337.50V237.50H54.50Z" fill="none" stroke="#000" stroke-width="0.8"/>
<line x1="54.50" y1="237.5" x2="54.50" y2="241.0" stroke="#000" stroke-width="0.8"/>
<text transform="translate(54.50 252.40)" font-size="11.00px"><tspan x="-6.36" y="0.00" textLength="12.72" lengthAdjust="spacingAndGlyphs">16</tspan></text>
<line x1="111.10" y1="237.5" x2="111.10" y2="241.0" stroke="#000" stroke-width="0.8"/>
<text transform="translate(111.10 252.40)" font-size="11.00px"><tspan x="-6.36" y="0.00" textLength="12.72" lengthAdjust="spacingAndGlyphs">18</tspan></text>
<line x1="167.70" y1="237.5" x2="167.70" y2="241.0" stroke="#000" stroke-width="0.8"/>
<text transform="translate(167.70 252.40)" font-size="11.00px"><tspan x="-6.36" y="0.00" textLength="12.72" lengthAdjust="spacingAndGlyphs">20</tspan></text>
<line x1="224.30" y1="237.5" x2="224.30" y2="241.0" stroke="#000" stroke-width="0.8"/>
<text transform="translate(224.30 252.40)" font-size="11.00px"><tspan x="-6.36" y="0.00" textLength="12.72" lengthAdjust="spacingAndGlyphs">22</tspan></text>
<line x1="280.90" y1="237.5" x2="280.90" y2="241.0" stroke="#000" stroke-width="0.8"/>
<text transform="translate(280.90 252.40)" font-size="11.00px"><tspan x="-6.36" y="0.00" textLength="12.72" lengthAdjust="spacingAndGlyphs">24</tspan></text>
<line x1="337.50" y1="237.5" x2="337.50" y2="241.0" stroke="#000" stroke-width="0.8"/>
<text transform="translate(337.50 252.40)" font-size="11.00px"><tspan x="-6.36" y="0.00" textLength="12.72" lengthAdjust="spacingAndGlyphs">26</tspan></text>
<line x1="51.0" y1="6.20" x2="54.5" y2="6.20" stroke="#000" stroke-width="0.8"/>
<text transform="translate(47.50 9.60)" font-size="11.00px"><tspan x="-22.27" y="0.00" textLength="22.27" lengthAdjust="spacingAndGlyphs">1.00</tspan></text>
<line x1="51.0" y1="35.11" x2="54.5" y2="35.11" stroke="#000" stroke-width="0.8"/>
<text transform="translate(47.50 38.60)" font-size="11.00px"><tspan x="-22.27" y="0.00" textLength="22.27" lengthAdjust="spacingAndGlyphs">0.75</tspan></text>
<line x1="51.0" y1="64.03" x2="54.5" y2="64.03" stroke="#000" stroke-width="0.8"/>
<text transform="translate(47.50 67.60)" font-size="11.00px"><tspan x="-22.27" y="0.00" textLength="22.27" lengthAdjust="spacingAndGlyphs">0.50</tspan></text>
<line x1="51.0" y1="92.94" x2="54.5" y2="92.94" stroke="#000" stroke-width="0.8"/>
<text transform="translate(47.50 96.60)" font-size="11.00px"><tspan x="-22.27" y="0.00" textLength="22.27" lengthAdjust="spacingAndGlyphs">0.25</tspan></text>
<line x1="51.0" y1="121.85" x2="54.5" y2="121.85" stroke="#000" stroke-width="0.8"/>
<text transform="translate(47.50 125.60)" font-size="11.00px"><tspan x="-22.27" y="0.00" textLength="22.27" lengthAdjust="spacingAndGlyphs">0.00</tspan></text>
<line x1="51.0" y1="150.76" x2="54.5" y2="150.76" stroke="#000" stroke-width="0.8"/>
<text transform="translate(47.50 154.60)" font-size="11.00px"><tspan x="-30.64" y="0.00" textLength="8.38" lengthAdjust="spacingAndGlyphs">−</tspan><tspan x="-22.27" y="0.00" textLength="22.27" lengthAdjust="spacingAndGlyphs">0.25</tspan></text>
<line x1="51.0" y1="179.68" x2="54.5" y2="179.68" stroke="#000" stroke-width="0.8"/>
<text transform="translate(47.50 183.60)" font-size="11.00px"><tspan x="-30.64" y="0.00" textLength="8.38" lengthAdjust="spacingAndGlyphs">−</tspan><tspan x="-22.27" y="0.00" textLength="22.27" lengthAdjust="spacingAndGlyphs">0.50</tspan></text>
<line x1="51.0" y1="208.59" x2="54.5" y2="208.59" stroke="#000" stroke-width="0.8"/>
<text transform="translate(47.50 212.60)" font-size="11.00px"><tspan x="-30.64" y="0.00" textLength="8.38" lengthAdjust="spacingAndGlyphs">−</tspan><tspan x="-22.27" y="0.00" textLength="22.27" lengthAdjust="spacingAndGlyphs">0.75</tspan></text>
<line x1="51.0" y1="237.50" x2="54.5" y2="237.50" stroke="#000" stroke-width="0.8"/>
<text transform="translate(47.50 241.60)" font-size="11.00px"><tspan x="-30.64" y="0.00" textLength="8.38" lengthAdjust="spacingAndGlyphs">−</tspan><tspan x="-22.27" y="0.00" textLength="22.27" lengthAdjust="spacingAndGlyphs">1.00</tspan></text>
<path d="M394.50 6.20H677.30V237.50H394.50Z" fill="none" stroke="#000" stroke-width="0.8"/>
<line x1="394.50" y1="237.5" x2="394.50" y2="241.0" stroke="#000" stroke-width="0.8"/>
<text transform="translate(394.50 252.40)" font-size="11.00px"><tspan x="-6.36" y="0.00" textLength="12.72" lengthAdjust="spacingAndGlyphs">16</tspan></text>
<line x1="451.06" y1="237.5" x2="451.06" y2="241.0" stroke="#000" stroke-width="0.8"/>
<text transform="translate(451.06 252.40)" font-size="11.00px"><tspan x="-6.36" y="0.00" textLength="12.72" lengthAdjust="spacingAndGlyphs">18</tspan></text>
<line x1="507.62" y1="237.5" x2="507.62" y2="241.0" stroke="#000" stroke-width="0.8"/>
<text transform="translate(507.62 252.40)" font-size="11.00px"><tspan x="-6.36" y="0.00" textLength="12.72" lengthAdjust="spacingAndGlyphs">20</tspan></text>
<line x1="564.18" y1="237.5" x2="564.18" y2="241.0" stroke="#000" stroke-width="0.8"/>
<text transform="translate(564.18 252.40)" font-size="11.00px"><tspan x="-6.36" y="0.00" textLength="12.72" lengthAdjust="spacingAndGlyphs">22</tspan></text>
<line x1="620.74" y1="237.5" x2="620.74" y2="241.0" stroke="#000" stroke-width="0.8"/>
<text transform="translate(620.74 252.40)" font-size="11.00px"><tspan x="-6.36" y="0.00" textLength="12.72" lengthAdjust="spacingAndGlyphs">24</tspan></text>
<line x1="677.30" y1="237.5" x2="677.30" y2="241.0" stroke="#000" stroke-width="0.8"/>
<text transform="translate(677.30 252.40)" font-size="11.00px"><tspan x="-6.36" y="0.00" textLength="12.72" lengthAdjust="spacingAndGlyphs">26</tspan></text>
<line x1="391.0" y1="6.20" x2="394.5" y2="6.20" stroke="#000" stroke-width="0.8"/>
<text transform="translate(386.50 9.60)" font-size="11.00px"><tspan x="-22.27" y="0.00" textLength="22.27" lengthAdjust="spacingAndGlyphs">1.00</tspan></text>
<line x1="391.0" y1="35.11" x2="394.5" y2="35.11" stroke="#000" stroke-width="0.8"/>
<text transform="translate(386.50 38.60)" font-size="11.00px"><tspan x="-22.27" y="0.00" textLength="22.27" lengthAdjust="spacingAndGlyphs">0.75</tspan></text>
<line x1="391.0" y1="64.03" x2="394.5" y2="64.03" stroke="#000" stroke-width="0.8"/>
<text transform="translate(386.50 67.60)" font-size="11.00px"><tspan x="-22.27" y="0.00" textLength="22.27" lengthAdjust="spacingAndGlyphs">0.50</tspan></text>
<line x1="391.0" y1="92.94" x2="394.5" y2="92.94" stroke="#000" stroke-width="0.8"/>
<text transform="translate(386.50 96.60)" font-size="11.00px"><tspan x="-22.27" y="0.00" textLength="22.27" lengthAdjust="spacingAndGlyphs">0.25</tspan></text>
<line x1="391.0" y1="121.85" x2="394.5" y2="121.85" stroke="#000" stroke-width="0.8"/>
<text transform="translate(386.50 125.60)" font-size="11.00px"><tspan x="-22.27" y="0.00" textLength="22.27" lengthAdjust="spacingAndGlyphs">0.00</tspan></text>
<line x1="391.0" y1="150.76" x2="394.5" y2="150.76" stroke="#000" stroke-width="0.8"/>
<text transform="translate(386.50 154.60)" font-size="11.00px"><tspan x="-30.64" y="0.00" textLength="8.38" lengthAdjust="spacingAndGlyphs">−</tspan><tspan x="-22.27" y="0.00" textLength="22.27" lengthAdjust="spacingAndGlyphs">0.25</tspan></text>
<line x1="391.0" y1="179.68" x2="394.5" y2="179.68" stroke="#000" stroke-width="0.8"/>
<text transform="translate(386.50 183.60)" font-size="11.00px"><tspan x="-30.64" y="0.00" textLength="8.38" lengthAdjust="spacingAndGlyphs">−</tspan><tspan x="-22.27" y="0.00" textLength="22.27" lengthAdjust="spacingAndGlyphs">0.50</tspan></text>
<line x1="391.0" y1="208.59" x2="394.5" y2="208.59" stroke="#000" stroke-width="0.8"/>
<text transform="translate(386.50 212.60)" font-size="11.00px"><tspan x="-30.64" y="0.00" textLength="8.38" lengthAdjust="spacingAndGlyphs">−</tspan><tspan x="-22.27" y="0.00" textLength="22.27" lengthAdjust="spacingAndGlyphs">0.75</tspan></text>
<line x1="391.0" y1="237.50" x2="394.5" y2="237.50" stroke="#000" stroke-width="0.8"/>
<text transform="translate(386.50 241.60)" font-size="11.00px"><tspan x="-30.64" y="0.00" textLength="8.38" lengthAdjust="spacingAndGlyphs">−</tspan><tspan x="-22.27" y="0.00" textLength="22.27" lengthAdjust="spacingAndGlyphs">1.00</tspan></text>
<text transform="translate(10.60 122.10) rotate(-90)" font-size="11.00px"><tspan x="-36.40" y="-0.90" textLength="25.01" lengthAdjust="spacingAndGlyphs" font-style="italic">Re(r)</tspan><tspan x="-10.18" y="0.00" textLength="3.18" lengthAdjust="spacingAndGlyphs">,</tspan> <tspan x="-3.82" y="0.00" textLength="12.46" lengthAdjust="spacingAndGlyphs">no</tspan> <tspan x="11.81" y="0.00" textLength="24.58" lengthAdjust="spacingAndGlyphs">units</tspan></text>
<text transform="translate(350.10 122.10) rotate(-90)" font-size="11.00px"><tspan x="-36.19" y="-0.90" textLength="24.60" lengthAdjust="spacingAndGlyphs" font-style="italic">Im(r)</tspan><tspan x="-10.39" y="0.00" textLength="3.18" lengthAdjust="spacingAndGlyphs">,</tspan> <tspan x="-4.03" y="0.00" textLength="12.46" lengthAdjust="spacingAndGlyphs">no</tspan> <tspan x="11.61" y="0.00" textLength="24.58" lengthAdjust="spacingAndGlyphs">units</tspan></text>
<text transform="translate(356.00 267.80)" font-size="13.20px"><tspan x="-47.69" y="0.00" textLength="66.94" lengthAdjust="spacingAndGlyphs">Frequency,</tspan> <tspan x="23.07" y="0.00" textLength="24.62" lengthAdjust="spacingAndGlyphs">GHz</tspan></text>
<rect x="622.6" y="169.7" width="49.4" height="62.7" rx="2" ry="2" fill="#fff" fill-opacity="0.8" stroke="#ccc" stroke-width="0.8"/>
<line x1="625.9" y1="178.1" x2="648.0" y2="178.1" stroke="#0000ff" stroke-width="1.5"/>
<text transform="translate(655.40 182.10)" font-size="11.00px"><tspan x="0.00" y="0.00" textLength="12.70" lengthAdjust="spacingAndGlyphs">pp</tspan></text>
<line x1="625.9" y1="193.1" x2="648.0" y2="193.1" stroke="#bf00bf" stroke-width="1.5"/>
<text transform="translate(655.40 197.10)" font-size="11.00px"><tspan x="0.00" y="0.00" textLength="11.56" lengthAdjust="spacingAndGlyphs">sp</tspan></text>
<line x1="625.9" y1="208.1" x2="648.0" y2="208.1" stroke="#ff0000" stroke-width="1.5"/>
<text transform="translate(655.40 212.10)" font-size="11.00px"><tspan x="0.00" y="0.00" textLength="11.56" lengthAdjust="spacingAndGlyphs">ps</tspan></text>
<line x1="625.9" y1="223.1" x2="648.0" y2="223.1" stroke="#008000" stroke-width="1.5"/>
<text transform="translate(655.40 227.10)" font-size="11.00px"><tspan x="0.00" y="0.00" textLength="10.42" lengthAdjust="spacingAndGlyphs">ss</tspan></text>
</svg>
</body></html>
